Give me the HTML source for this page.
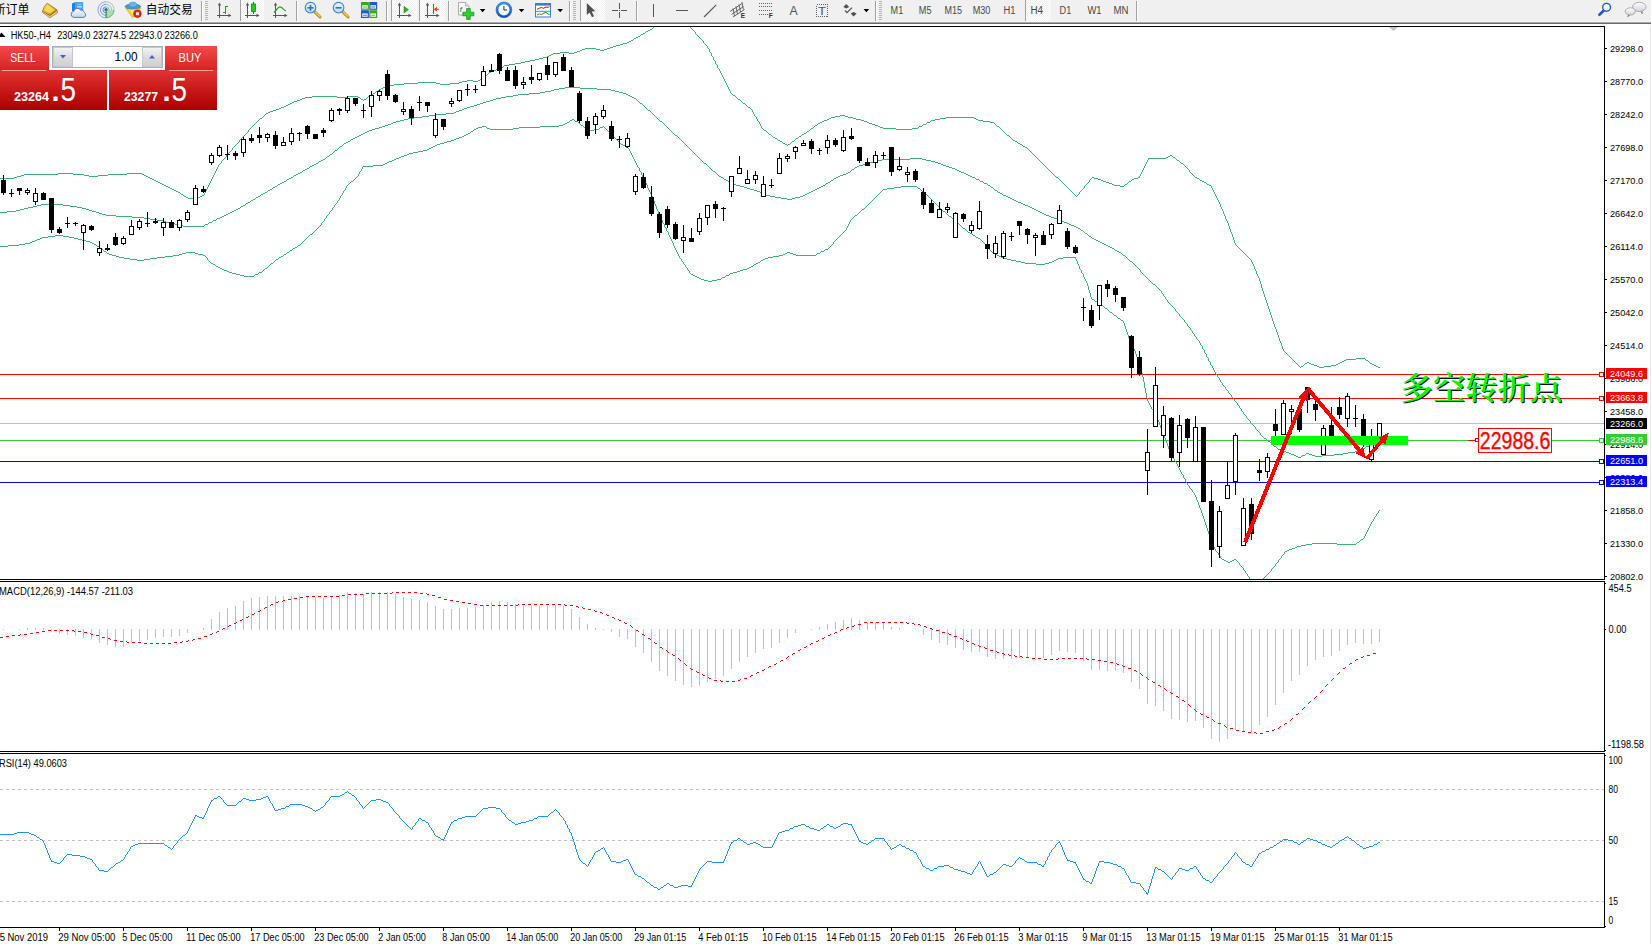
<!DOCTYPE html>
<html><head><meta charset="utf-8"><title>HK50-,H4</title>
<style>html,body{margin:0;padding:0;background:#fff}body{width:1651px;height:944px;overflow:hidden;position:relative}svg{display:block;position:absolute;left:0;top:0;font-family:"Liberation Sans","Noto Sans CJK SC",sans-serif}text{white-space:pre}</style></head><body>
<svg width="1651" height="944" viewBox="0 0 1651 944">
<defs><linearGradient id="gSell" x1="0" y1="0" x2="0" y2="1"><stop offset="0" stop-color="#f24a4a"/><stop offset="1" stop-color="#d82222"/></linearGradient><linearGradient id="gBig" x1="0" y1="0" x2="0" y2="1"><stop offset="0" stop-color="#e23434"/><stop offset="0.5" stop-color="#c81818"/><stop offset="1" stop-color="#ad0000"/></linearGradient><linearGradient id="gBtn" x1="0" y1="0" x2="0" y2="1"><stop offset="0" stop-color="#f4f4f4"/><stop offset="0.5" stop-color="#dcdcdc"/><stop offset="1" stop-color="#cfcfcf"/></linearGradient><clipPath id="cMain"><rect x="0" y="27" width="1604" height="552"/></clipPath></defs>
<rect x="0" y="0" width="1651" height="944" fill="#fff"/>
<g shape-rendering="crispEdges">
<rect x="0" y="26" width="1605" height="1" fill="#000"/>
<rect x="1604" y="26" width="1" height="554" fill="#000"/>
<rect x="1604" y="581" width="1" height="171" fill="#000"/>
<rect x="1604" y="753" width="1" height="175" fill="#000"/>
<rect x="0" y="579" width="1605" height="1" fill="#000"/>
<rect x="0" y="581" width="1605" height="1" fill="#000"/>
<rect x="0" y="751" width="1605" height="1" fill="#000"/>
<rect x="0" y="753" width="1605" height="1" fill="#000"/>
<rect x="0" y="927" width="1605" height="1" fill="#000"/>
<rect x="1650" y="24" width="1" height="920" fill="#e3e3e3"/>
<rect x="0" y="423" width="1604" height="1" fill="#c0c0c0"/>
<rect x="0" y="374" width="1600" height="1" fill="#ff0000"/>
<rect x="0" y="398" width="1600" height="1" fill="#ff0000"/>
<rect x="0" y="440" width="1600" height="1" fill="#32cd32"/>
<rect x="0" y="461" width="1600" height="1" fill="#0000ff"/>
<rect x="0" y="482" width="1600" height="1" fill="#0000ff"/>
<path d="M653 27h1M690 27h1M652 28h1M691 28h1M650 29h2M692 29h1M648 30h2M693 30h1M646 31h2M694 31h1M645 32h1M695 32h1M643 33h2M695 33h1M641 34h2M696 34h1M640 35h1M697 35h1M638 36h2M698 36h1M636 37h2M699 37h1M634 38h2M700 38h1M633 39h1M701 39h1M631 40h2M702 40h1M629 41h2M703 41h1M627 42h2M703 42h1M623 43h4M704 43h1M620 44h3M705 44h1M616 45h4M706 45h1M613 46h3M707 46h1M610 47h3M707 47h1M585 48h11M607 48h3M708 48h1M582 49h3M596 49h4M604 49h3M709 49h1M580 50h2M600 50h4M709 50h1M577 51h3M709 51h1M560 52h9M574 52h3M710 52h1M553 53h7M569 53h5M711 53h1M551 54h2M711 54h1M549 55h2M711 55h1M547 56h2M712 56h1M543 57h4M713 57h1M539 58h4M713 58h1M535 59h4M713 59h1M530 60h5M714 60h1M525 61h5M715 61h1M521 62h4M715 62h1M515 63h6M715 63h1M509 64h6M716 64h1M504 65h5M717 65h1M503 66h1M717 66h1M500 67h3M717 67h1M499 68h1M718 68h1M496 69h3M719 69h1M493 70h3M719 70h1M491 71h2M720 71h1M489 72h2M720 72h1M488 73h1M721 73h1M487 74h1M721 74h1M485 75h2M722 75h1M484 76h1M722 76h1M483 77h1M723 77h1M482 78h1M723 78h1M480 79h2M724 79h1M467 80h6M478 80h2M724 80h1M462 81h5M473 81h5M725 81h1M418 82h18M459 82h3M725 82h1M404 83h14M436 83h4M450 83h9M726 83h1M394 84h10M440 84h10M726 84h1M389 85h5M727 85h1M385 86h4M727 86h1M383 87h2M728 87h1M381 88h2M728 88h1M379 89h2M729 89h1M378 90h1M729 90h1M376 91h2M730 91h1M375 92h1M730 92h1M373 93h2M731 93h1M371 94h2M732 94h1M370 95h1M733 95h2M312 96h25M348 96h10M368 96h2M735 96h1M305 97h7M337 97h11M358 97h2M367 97h1M736 97h1M302 98h3M360 98h1M366 98h1M737 98h1M300 99h2M361 99h2M364 99h2M738 99h2M297 100h3M363 100h1M740 100h1M294 101h3M741 101h1M292 102h2M742 102h1M290 103h2M743 103h2M288 104h2M745 104h1M286 105h2M746 105h1M284 106h2M747 106h1M281 107h3M748 107h2M279 108h2M750 108h1M276 109h3M751 109h1M273 110h3M752 110h1M270 111h3M752 111h1M268 112h2M753 112h1M266 113h2M753 113h1M265 114h1M754 114h1M264 115h1M754 115h1M840 115h5M263 116h1M755 116h1M835 116h5M845 116h3M262 117h1M756 117h1M831 117h4M848 117h5M946 117h28M260 118h2M756 118h1M829 118h2M853 118h3M940 118h6M974 118h2M259 119h1M757 119h1M827 119h2M856 119h5M935 119h5M976 119h2M258 120h1M757 120h1M824 120h3M861 120h3M931 120h4M978 120h5M257 121h1M758 121h1M822 121h2M864 121h3M930 121h1M983 121h7M256 122h1M759 122h1M820 122h2M867 122h2M927 122h3M990 122h4M255 123h1M759 123h1M818 123h2M869 123h3M926 123h1M994 123h1M254 124h1M760 124h1M817 124h1M872 124h3M923 124h3M995 124h1M253 125h1M760 125h1M815 125h2M875 125h3M922 125h1M996 125h1M252 126h1M761 126h1M814 126h1M878 126h2M919 126h3M997 126h2M251 127h1M761 127h1M813 127h1M880 127h3M918 127h1M999 127h1M250 128h1M762 128h1M811 128h2M883 128h13M912 128h6M1000 128h1M249 129h1M763 129h1M810 129h1M896 129h16M1001 129h1M248 130h1M764 130h2M809 130h1M1002 130h1M248 131h1M766 131h1M807 131h2M1003 131h1M247 132h1M767 132h1M806 132h1M1004 132h1M246 133h1M768 133h1M804 133h2M1005 133h1M245 134h1M769 134h2M802 134h2M1006 134h1M244 135h1M771 135h1M801 135h1M1007 135h2M243 136h1M772 136h1M799 136h2M1009 136h1M242 137h1M773 137h2M798 137h1M1010 137h1M241 138h1M775 138h2M796 138h2M1011 138h1M240 139h1M777 139h1M795 139h1M1012 139h1M239 140h1M778 140h2M794 140h1M1013 140h2M239 141h1M780 141h2M792 141h2M1015 141h2M238 142h1M782 142h1M791 142h1M1017 142h1M237 143h1M783 143h2M790 143h1M1018 143h2M236 144h1M785 144h2M788 144h2M1020 144h2M235 145h1M787 145h1M1022 145h1M234 146h1M1023 146h2M233 147h1M1025 147h2M232 148h1M1027 148h1M232 149h1M1028 149h1M231 150h1M1029 150h1M230 151h1M1030 151h1M229 152h1M1031 152h1M228 153h1M1032 153h1M227 154h1M1033 154h1M226 155h1M1034 155h1M1170 155h2M226 156h1M1035 156h1M1168 156h2M1172 156h1M225 157h1M1036 157h1M1166 157h2M1173 157h2M224 158h1M1037 158h1M1148 158h18M1175 158h1M223 159h1M1038 159h1M1148 159h1M1176 159h1M222 160h1M1039 160h1M1147 160h1M1177 160h2M221 161h1M1040 161h1M1147 161h1M1179 161h1M221 162h1M1041 162h1M1146 162h1M1180 162h1M220 163h1M1042 163h1M1146 163h1M1181 163h2M219 164h1M1043 164h1M1145 164h1M1183 164h1M218 165h1M1044 165h1M1145 165h1M1184 165h1M218 166h1M1045 166h1M1144 166h1M1185 166h1M217 167h1M1046 167h1M1144 167h1M1186 167h1M217 168h1M1047 168h1M1143 168h1M1187 168h1M216 169h1M1048 169h1M1143 169h1M1188 169h1M216 170h1M1049 170h1M1142 170h1M1189 170h1M215 171h1M1050 171h1M1142 171h1M1189 171h1M215 172h1M1051 172h1M1141 172h1M1190 172h1M58 173h15M127 173h15M214 173h1M1052 173h1M1141 173h1M1191 173h1M24 174h34M73 174h11M108 174h19M142 174h2M214 174h1M1053 174h1M1140 174h1M1192 174h1M21 175h3M84 175h5M98 175h10M144 175h2M213 175h1M1054 175h1M1140 175h1M1193 175h1M17 176h4M89 176h9M146 176h2M213 176h1M1055 176h1M1139 176h1M1194 176h1M14 177h3M148 177h2M212 177h1M1056 177h2M1092 177h2M1138 177h2M1195 177h2M0 178h14M150 178h2M212 178h1M1058 178h1M1091 178h1M1094 178h4M1134 178h4M1197 178h2M152 179h2M211 179h1M1059 179h1M1090 179h1M1098 179h3M1132 179h2M1199 179h1M154 180h2M211 180h1M1060 180h1M1089 180h1M1101 180h2M1131 180h1M1200 180h2M156 181h2M210 181h1M1061 181h1M1089 181h1M1103 181h3M1129 181h2M1202 181h2M158 182h2M210 182h1M1062 182h1M1088 182h1M1106 182h3M1128 182h1M1204 182h2M160 183h2M209 183h1M1063 183h1M1087 183h1M1109 183h3M1127 183h1M1206 183h1M162 184h2M209 184h1M1064 184h1M1086 184h1M1112 184h2M1125 184h2M1207 184h2M164 185h2M208 185h1M1065 185h1M1085 185h1M1114 185h6M1124 185h1M1209 185h2M166 186h2M208 186h1M1066 186h1M1084 186h1M1120 186h4M1211 186h1M168 187h2M207 187h1M1067 187h1M1084 187h1M1211 187h1M170 188h2M207 188h1M1068 188h1M1083 188h1M1212 188h1M172 189h2M206 189h1M1069 189h1M1082 189h1M1212 189h1M174 190h2M206 190h1M1070 190h1M1081 190h1M1213 190h1M176 191h2M205 191h1M1071 191h1M1080 191h1M1213 191h1M178 192h2M205 192h1M1072 192h1M1079 192h1M1214 192h1M180 193h1M204 193h1M1073 193h1M1079 193h1M1214 193h1M181 194h2M204 194h1M1074 194h1M1078 194h1M1215 194h1M183 195h1M202 195h2M1075 195h1M1077 195h1M1215 195h1M184 196h2M200 196h2M1076 196h1M1216 196h1M186 197h2M196 197h4M1216 197h1M188 198h8M1217 198h1M1217 199h1M1218 200h1M1218 201h1M1219 202h1M1219 203h1M1220 204h1M1220 205h1M1220 206h1M1221 207h1M1221 208h1M1222 209h1M1222 210h1M1223 211h1M1223 212h1M1223 213h1M1224 214h1M1224 215h1M1225 216h1M1225 217h1M1225 218h1M1226 219h1M1226 220h1M1227 221h1M1227 222h1M1228 223h1M1228 224h1M1228 225h1M1229 226h1M1229 227h1M1229 228h1M1230 229h1M1230 230h1M1230 231h1M1231 232h1M1231 233h1M1232 234h1M1232 235h1M1232 236h1M1233 237h1M1233 238h1M1233 239h1M1234 240h1M1234 241h1M1234 242h1M1235 243h1M1235 244h1M1236 245h1M1237 246h1M1238 247h1M1239 248h1M1240 249h1M1241 250h1M1242 251h1M1243 252h1M1244 253h1M1245 254h1M1246 255h1M1247 256h1M1248 257h1M1249 258h1M1250 259h1M1251 260h1M1251 261h1M1252 262h1M1252 263h1M1253 264h1M1253 265h1M1254 266h1M1254 267h1M1254 268h1M1255 269h1M1255 270h1M1256 271h1M1256 272h1M1256 273h1M1257 274h1M1257 275h1M1258 276h1M1258 277h1M1259 278h1M1259 279h1M1259 280h1M1260 281h1M1260 282h1M1260 283h1M1261 284h1M1261 285h1M1261 286h1M1261 287h1M1262 288h1M1262 289h1M1262 290h1M1263 291h1M1263 292h1M1263 293h1M1264 294h1M1264 295h1M1264 296h1M1265 297h1M1265 298h1M1265 299h1M1266 300h1M1266 301h1M1266 302h1M1267 303h1M1267 304h1M1267 305h1M1268 306h1M1268 307h1M1268 308h1M1269 309h1M1269 310h1M1269 311h1M1270 312h1M1270 313h1M1270 314h1M1271 315h1M1271 316h1M1271 317h1M1272 318h1M1272 319h1M1272 320h1M1273 321h1M1273 322h1M1273 323h1M1274 324h1M1274 325h1M1274 326h1M1275 327h1M1275 328h1M1276 329h1M1276 330h1M1276 331h1M1277 332h1M1277 333h1M1277 334h1M1278 335h1M1278 336h1M1278 337h1M1279 338h1M1279 339h1M1279 340h1M1280 341h1M1280 342h1M1281 343h1M1281 344h1M1281 345h1M1282 346h1M1282 347h1M1282 348h1M1283 349h1M1283 350h1M1284 351h1M1285 352h1M1286 353h1M1287 354h1M1288 355h1M1289 356h1M1290 357h1M1291 358h1M1356 358h9M1292 359h1M1346 359h10M1365 359h1M1293 360h1M1344 360h2M1366 360h2M1294 361h1M1342 361h2M1368 361h1M1295 362h1M1307 362h2M1340 362h2M1369 362h1M1296 363h1M1305 363h2M1309 363h2M1338 363h2M1370 363h2M1297 364h1M1304 364h1M1311 364h3M1336 364h2M1372 364h2M1298 365h1M1303 365h1M1314 365h3M1331 365h5M1374 365h2M1299 366h1M1301 366h2M1317 366h2M1324 366h7M1376 366h2M1300 367h1M1319 367h5M1378 367h2" transform="translate(0,0.5)" fill="none" stroke="#3cb371" stroke-width="1"/>
<path d="M565 87h15M559 88h6M580 88h17M554 89h5M597 89h14M551 90h3M611 90h4M545 91h6M615 91h4M540 92h5M619 92h4M529 93h11M623 93h3M518 94h11M626 94h2M513 95h5M628 95h2M506 96h7M630 96h2M501 97h5M632 97h2M496 98h5M634 98h2M493 99h3M636 99h1M490 100h3M637 100h1M486 101h4M638 101h1M483 102h3M639 102h1M480 103h3M640 103h2M477 104h3M642 104h1M474 105h3M643 105h1M470 106h4M644 106h1M467 107h3M645 107h1M464 108h3M646 108h1M462 109h2M647 109h1M459 110h3M648 110h2M456 111h3M650 111h1M454 112h2M651 112h1M446 113h8M652 113h1M435 114h11M653 114h1M429 115h6M654 115h1M422 116h7M655 116h1M414 117h8M656 117h1M408 118h6M657 118h1M404 119h4M658 119h1M400 120h4M659 120h1M396 121h4M660 121h2M393 122h3M662 122h1M391 123h2M663 123h1M388 124h3M664 124h1M385 125h3M665 125h1M382 126h3M666 126h1M379 127h3M667 127h1M375 128h4M668 128h1M372 129h3M669 129h1M369 130h3M670 130h1M367 131h2M671 131h1M365 132h2M672 132h1M363 133h2M673 133h1M361 134h2M674 134h1M359 135h2M675 135h2M357 136h2M677 136h1M355 137h2M678 137h1M353 138h2M679 138h1M351 139h2M680 139h1M350 140h1M681 140h1M348 141h2M682 141h1M346 142h2M683 142h1M344 143h2M684 143h1M343 144h1M685 144h1M342 145h1M686 145h1M340 146h2M687 146h1M339 147h1M688 147h1M338 148h1M689 148h1M337 149h1M690 149h1M335 150h2M691 150h1M334 151h1M692 151h1M333 152h1M693 152h1M332 153h1M694 153h1M330 154h2M695 154h1M329 155h1M696 155h1M327 156h2M697 156h1M326 157h1M698 157h1M325 158h1M699 158h1M910 158h12M323 159h2M700 159h1M882 159h28M922 159h4M321 160h2M701 160h1M878 160h4M926 160h5M319 161h2M702 161h1M874 161h4M931 161h4M318 162h1M703 162h1M870 162h4M935 162h3M316 163h2M704 163h2M867 163h3M938 163h3M314 164h2M706 164h1M863 164h4M941 164h2M312 165h2M707 165h1M859 165h4M943 165h3M310 166h2M708 166h1M857 166h2M946 166h3M309 167h1M709 167h1M855 167h2M949 167h3M307 168h2M710 168h1M854 168h1M952 168h3M305 169h2M711 169h1M852 169h2M955 169h2M303 170h2M712 170h1M851 170h1M957 170h2M302 171h1M713 171h2M850 171h1M959 171h2M300 172h2M715 172h1M848 172h2M961 172h3M298 173h2M716 173h1M846 173h2M964 173h2M296 174h2M717 174h1M843 174h3M966 174h2M294 175h2M718 175h1M840 175h3M968 175h2M293 176h1M719 176h2M838 176h2M970 176h2M291 177h2M721 177h2M836 177h2M972 177h3M289 178h2M723 178h1M834 178h2M975 178h1M287 179h2M724 179h2M833 179h1M976 179h3M286 180h1M726 180h2M831 180h2M979 180h1M284 181h2M728 181h1M830 181h1M980 181h3M282 182h2M729 182h3M828 182h2M983 182h1M280 183h2M732 183h1M826 183h2M984 183h3M278 184h2M733 184h3M825 184h1M987 184h1M277 185h1M736 185h4M823 185h2M988 185h2M275 186h2M740 186h4M821 186h2M990 186h1M273 187h2M744 187h3M819 187h2M991 187h2M272 188h1M747 188h3M817 188h2M993 188h1M270 189h2M750 189h4M815 189h2M994 189h1M268 190h2M754 190h3M813 190h2M995 190h2M267 191h1M757 191h3M811 191h2M997 191h1M265 192h2M760 192h2M809 192h2M998 192h2M263 193h2M762 193h2M807 193h2M1000 193h2M261 194h2M764 194h2M805 194h2M1002 194h1M260 195h1M766 195h4M803 195h2M1003 195h3M258 196h2M770 196h5M800 196h3M1006 196h2M256 197h2M775 197h6M795 197h5M1008 197h2M255 198h1M781 198h6M792 198h3M1010 198h2M253 199h2M787 199h5M1012 199h2M251 200h2M1014 200h2M250 201h1M1016 201h2M248 202h2M1018 202h3M246 203h2M1021 203h2M41 204h22M245 204h1M1023 204h2M37 205h4M63 205h7M243 205h2M1025 205h3M33 206h4M70 206h7M241 206h2M1028 206h2M28 207h5M77 207h5M240 207h1M1030 207h2M24 208h4M82 208h4M238 208h2M1032 208h2M20 209h4M86 209h3M236 209h2M1034 209h2M16 210h4M89 210h3M234 210h2M1036 210h2M7 211h9M92 211h4M232 211h2M1038 211h2M0 212h7M96 212h3M230 212h2M1040 212h2M99 213h3M228 213h2M1042 213h2M102 214h4M226 214h2M1044 214h2M106 215h10M224 215h2M1046 215h3M116 216h16M222 216h2M1049 216h2M132 217h12M220 217h2M1051 217h3M144 218h6M217 218h3M1054 218h3M150 219h7M216 219h1M1057 219h2M157 220h6M213 220h3M1059 220h3M163 221h3M212 221h1M1062 221h2M166 222h5M209 222h3M1064 222h3M171 223h4M208 223h1M1067 223h2M175 224h4M205 224h3M1069 224h2M179 225h4M204 225h1M1071 225h3M183 226h21M1074 226h2M1076 227h2M1078 228h2M1080 229h1M1081 230h2M1083 231h1M1084 232h1M1085 233h2M1087 234h1M1088 235h1M1089 236h2M1091 237h1M1092 238h2M1094 239h2M1096 240h2M1098 241h2M1100 242h2M1102 243h2M1104 244h2M1106 245h2M1108 246h2M1110 247h2M1112 248h2M1114 249h1M1115 250h2M1117 251h2M1119 252h2M1121 253h1M1122 254h1M1123 255h2M1125 256h1M1126 257h1M1127 258h1M1128 259h1M1129 260h1M1130 261h2M1132 262h1M1133 263h1M1134 264h1M1135 265h1M1136 266h1M1137 267h1M1138 268h1M1139 269h1M1140 270h1M1140 271h1M1141 272h1M1142 273h1M1143 274h1M1144 275h1M1145 276h1M1146 277h1M1147 278h1M1148 279h1M1149 280h1M1150 281h1M1151 282h1M1152 283h1M1153 284h2M1155 285h1M1156 286h1M1157 287h1M1158 288h1M1159 289h1M1160 290h1M1161 291h1M1161 292h1M1162 293h1M1163 294h1M1163 295h1M1164 296h1M1165 297h1M1165 298h1M1166 299h1M1167 300h1M1167 301h1M1168 302h1M1169 303h1M1170 304h1M1171 305h1M1172 306h1M1173 307h1M1174 308h1M1175 309h1M1175 310h1M1176 311h1M1177 312h1M1178 313h1M1179 314h1M1179 315h1M1180 316h1M1181 317h1M1182 318h1M1183 319h1M1184 320h1M1184 321h1M1185 322h1M1186 323h1M1187 324h1M1187 325h1M1188 326h1M1189 327h1M1190 328h1M1190 329h1M1191 330h1M1192 331h1M1192 332h1M1193 333h1M1194 334h1M1194 335h1M1195 336h1M1196 337h1M1196 338h1M1197 339h1M1198 340h1M1199 341h1M1199 342h1M1200 343h1M1200 344h1M1201 345h1M1202 346h1M1202 347h1M1202 348h1M1203 349h1M1204 350h1M1204 351h1M1204 352h1M1205 353h1M1206 354h1M1206 355h1M1206 356h1M1207 357h1M1208 358h1M1208 359h1M1208 360h1M1209 361h1M1210 362h1M1210 363h1M1210 364h1M1211 365h1M1212 366h1M1212 367h1M1213 368h1M1213 369h1M1214 370h1M1214 371h1M1215 372h1M1215 373h1M1216 374h1M1217 375h1M1217 376h1M1218 377h1M1219 378h1M1219 379h1M1220 380h1M1220 381h1M1221 382h1M1222 383h1M1222 384h1M1223 385h1M1224 386h1M1225 387h1M1225 388h1M1226 389h1M1227 390h1M1228 391h1M1228 392h1M1229 393h1M1230 394h1M1231 395h1M1231 396h1M1232 397h1M1233 398h1M1234 399h1M1234 400h1M1235 401h1M1236 402h1M1237 403h1M1237 404h1M1238 405h1M1239 406h1M1239 407h1M1240 408h1M1241 409h1M1241 410h1M1242 411h1M1243 412h1M1243 413h1M1244 414h1M1245 415h1M1246 416h1M1246 417h1M1247 418h1M1248 419h1M1249 420h1M1250 421h1M1250 422h1M1251 423h1M1252 424h1M1253 425h1M1254 426h1M1255 427h1M1255 428h1M1256 429h1M1257 430h1M1258 431h1M1259 432h1M1260 433h1M1260 434h1M1261 435h1M1262 436h1M1263 437h1M1264 438h2M1266 439h1M1267 440h1M1268 441h2M1378 441h2M1270 442h1M1376 442h2M1271 443h1M1373 443h3M1272 444h1M1371 444h2M1273 445h1M1369 445h2M1274 446h2M1366 446h3M1276 447h1M1365 447h1M1277 448h1M1363 448h2M1278 449h2M1361 449h2M1280 450h3M1359 450h2M1283 451h3M1355 451h4M1286 452h3M1348 452h7M1289 453h2M1306 453h3M1343 453h5M1291 454h3M1305 454h1M1309 454h3M1334 454h9M1294 455h2M1302 455h3M1312 455h3M1322 455h12M1296 456h2M1301 456h1M1315 456h7M1298 457h3" transform="translate(0,0.5)" fill="none" stroke="#3cb371" stroke-width="1"/>
<path d="M572 119h2M570 120h2M574 120h1M569 121h1M575 121h3M567 122h2M578 122h1M565 123h2M579 123h1M563 124h2M580 124h1M559 125h4M581 125h2M482 126h4M540 126h19M583 126h1M603 126h1M478 127h4M486 127h1M519 127h21M584 127h1M600 127h3M604 127h1M476 128h2M487 128h3M513 128h6M585 128h2M599 128h1M605 128h1M474 129h2M490 129h23M587 129h1M594 129h5M606 129h1M473 130h1M588 130h6M607 130h1M471 131h2M608 131h1M470 132h1M609 132h1M468 133h2M610 133h1M466 134h2M611 134h1M464 135h2M612 135h1M462 136h2M613 136h1M459 137h3M614 137h1M456 138h3M615 138h1M454 139h2M616 139h1M451 140h3M617 140h1M447 141h4M618 141h1M444 142h3M619 142h1M440 143h4M620 143h1M437 144h3M621 144h2M435 145h2M623 145h2M433 146h2M625 146h1M431 147h2M626 147h2M429 148h2M628 148h1M427 149h2M629 149h1M423 150h4M629 150h1M418 151h5M630 151h1M413 152h5M630 152h1M409 153h4M631 153h1M407 154h2M631 154h1M404 155h3M632 155h1M401 156h3M632 156h1M399 157h2M633 157h1M396 158h3M633 158h1M394 159h2M634 159h1M392 160h2M634 160h1M389 161h3M635 161h1M387 162h2M635 162h1M385 163h2M636 163h1M383 164h2M636 164h1M373 165h10M637 165h1M363 166h10M637 166h1M362 167h1M638 167h1M362 168h1M639 168h1M361 169h1M639 169h1M361 170h1M639 170h1M360 171h1M640 171h1M359 172h1M641 172h1M359 173h1M641 173h1M358 174h1M641 174h1M358 175h1M642 175h1M357 176h1M642 176h1M356 177h1M643 177h1M355 178h1M643 178h1M354 179h1M644 179h1M353 180h1M644 180h1M351 181h2M645 181h1M350 182h1M645 182h1M349 183h1M646 183h1M348 184h1M646 184h1M347 185h1M647 185h1M346 186h1M647 186h1M901 186h16M346 187h1M647 187h1M894 187h7M917 187h1M345 188h1M648 188h1M887 188h7M918 188h2M345 189h1M648 189h1M883 189h4M920 189h1M344 190h1M649 190h1M882 190h1M921 190h1M343 191h1M649 191h1M881 191h1M922 191h2M343 192h1M650 192h1M880 192h1M924 192h1M342 193h1M650 193h1M879 193h1M925 193h1M342 194h1M651 194h1M878 194h1M926 194h1M341 195h1M651 195h1M877 195h1M927 195h1M340 196h1M652 196h1M876 196h1M928 196h1M340 197h1M652 197h1M875 197h1M929 197h1M339 198h1M652 198h1M874 198h1M930 198h1M339 199h1M653 199h1M873 199h1M931 199h1M338 200h1M653 200h1M872 200h1M932 200h1M337 201h1M654 201h1M871 201h1M933 201h1M337 202h1M654 202h1M870 202h1M934 202h1M336 203h1M654 203h1M869 203h1M935 203h1M335 204h1M655 204h1M868 204h1M936 204h1M334 205h1M655 205h1M867 205h1M937 205h1M334 206h1M656 206h1M866 206h1M938 206h1M333 207h1M656 207h1M865 207h1M939 207h1M332 208h1M656 208h1M864 208h1M940 208h1M332 209h1M657 209h1M862 209h2M941 209h1M331 210h1M657 210h1M861 210h1M942 210h1M330 211h1M658 211h1M860 211h1M943 211h2M329 212h1M658 212h1M859 212h1M945 212h1M329 213h1M658 213h1M858 213h1M946 213h1M328 214h1M659 214h1M857 214h1M947 214h1M327 215h1M659 215h1M855 215h2M948 215h1M326 216h1M660 216h1M854 216h1M949 216h2M326 217h1M660 217h1M853 217h1M951 217h1M325 218h1M660 218h1M852 218h1M952 218h1M324 219h1M661 219h1M851 219h1M953 219h1M324 220h1M662 220h1M850 220h1M954 220h1M323 221h1M662 221h1M850 221h1M955 221h1M322 222h1M662 222h1M849 222h1M956 222h2M321 223h1M663 223h1M849 223h1M958 223h1M321 224h1M664 224h1M848 224h1M959 224h1M320 225h1M664 225h1M848 225h1M960 225h1M319 226h1M664 226h1M847 226h1M961 226h1M318 227h1M665 227h1M847 227h1M962 227h1M317 228h1M666 228h1M846 228h1M963 228h2M316 229h1M666 229h1M846 229h1M965 229h1M315 230h1M666 230h1M845 230h1M966 230h1M314 231h1M667 231h1M844 231h1M967 231h1M313 232h1M668 232h1M843 232h1M968 232h2M312 233h1M668 233h1M842 233h1M970 233h2M310 234h2M668 234h1M841 234h1M972 234h1M55 235h8M309 235h1M669 235h1M840 235h1M973 235h2M48 236h7M63 236h6M308 236h1M669 236h1M839 236h1M975 236h1M42 237h6M69 237h5M307 237h1M670 237h1M838 237h1M976 237h2M40 238h2M74 238h4M306 238h1M670 238h1M837 238h1M978 238h2M37 239h3M78 239h4M305 239h1M671 239h1M836 239h1M980 239h1M35 240h2M82 240h4M304 240h1M671 240h1M835 240h1M981 240h1M32 241h3M86 241h4M303 241h1M672 241h1M834 241h1M982 241h1M30 242h2M90 242h2M302 242h1M672 242h1M833 242h1M983 242h1M25 243h5M92 243h2M301 243h1M673 243h1M833 243h1M984 243h1M19 244h6M94 244h2M300 244h1M673 244h1M832 244h1M985 244h1M8 245h11M96 245h1M298 245h2M673 245h1M831 245h1M986 245h1M0 246h8M97 246h2M297 246h1M674 246h1M830 246h1M986 246h1M99 247h1M295 247h2M674 247h1M829 247h1M987 247h1M100 248h1M293 248h2M675 248h1M828 248h1M988 248h1M101 249h2M292 249h1M675 249h1M825 249h3M989 249h1M103 250h1M290 250h2M676 250h1M824 250h1M990 250h1M104 251h2M289 251h1M676 251h1M821 251h3M991 251h1M106 252h1M186 252h9M287 252h2M677 252h1M787 252h3M820 252h1M992 252h1M107 253h2M182 253h4M195 253h3M286 253h1M677 253h1M785 253h2M790 253h3M817 253h3M993 253h2M109 254h3M179 254h3M198 254h5M284 254h2M678 254h1M783 254h2M793 254h3M816 254h1M995 254h2M112 255h4M173 255h6M203 255h2M283 255h1M678 255h1M779 255h4M796 255h20M997 255h2M116 256h3M165 256h8M205 256h1M281 256h2M679 256h1M773 256h6M999 256h2M119 257h5M157 257h8M206 257h1M279 257h2M679 257h1M768 257h5M1001 257h2M1063 257h13M124 258h6M150 258h7M207 258h1M278 258h1M680 258h1M765 258h3M1003 258h4M1058 258h5M1075 258h1M130 259h7M144 259h6M207 259h1M276 259h2M681 259h1M763 259h2M1007 259h4M1056 259h2M1076 259h1M137 260h7M208 260h1M275 260h1M681 260h1M761 260h2M1011 260h5M1054 260h2M1076 260h1M209 261h1M274 261h1M682 261h1M760 261h1M1016 261h5M1052 261h2M1077 261h1M210 262h1M273 262h1M683 262h1M758 262h2M1021 262h4M1049 262h3M1077 262h1M211 263h2M271 263h2M683 263h1M756 263h2M1025 263h11M1045 263h4M1077 263h1M213 264h2M270 264h1M684 264h1M754 264h2M1036 264h9M1078 264h1M215 265h1M269 265h1M685 265h1M753 265h1M1078 265h1M216 266h2M268 266h1M685 266h1M751 266h2M1079 266h1M218 267h2M267 267h1M686 267h1M749 267h2M1079 267h1M220 268h2M265 268h2M687 268h1M747 268h2M1079 268h1M222 269h2M264 269h1M687 269h1M743 269h4M1080 269h1M224 270h3M263 270h1M688 270h1M740 270h3M1081 270h1M227 271h2M262 271h1M689 271h1M737 271h3M1081 271h1M229 272h3M259 272h3M689 272h1M733 272h4M1081 272h1M232 273h4M258 273h1M690 273h1M730 273h3M1082 273h1M236 274h4M255 274h3M691 274h2M729 274h1M1083 274h1M240 275h4M254 275h1M693 275h2M726 275h3M1083 275h1M244 276h10M695 276h2M725 276h1M1083 276h1M697 277h2M722 277h3M1084 277h1M699 278h2M721 278h1M1084 278h1M701 279h3M717 279h4M1085 279h1M704 280h4M712 280h5M1085 280h1M708 281h4M1086 281h1M1086 282h1M1087 283h1M1087 284h1M1087 285h1M1088 286h1M1088 287h1M1088 288h1M1088 289h1M1089 290h1M1089 291h1M1089 292h1M1090 293h1M1090 294h1M1090 295h1M1090 296h1M1091 297h1M1091 298h1M1092 299h2M1094 300h1M1095 301h2M1097 302h1M1098 303h2M1100 304h1M1101 305h2M1103 306h1M1104 307h1M1105 308h2M1107 309h1M1108 310h1M1109 311h1M1110 312h2M1112 313h1M1113 314h1M1114 315h2M1116 316h1M1117 317h1M1118 318h2M1120 319h1M1121 320h2M1123 321h1M1123 322h1M1124 323h1M1124 324h1M1124 325h1M1125 326h1M1125 327h1M1125 328h1M1126 329h1M1126 330h1M1126 331h1M1127 332h1M1127 333h1M1127 334h1M1128 335h1M1128 336h1M1128 337h1M1129 338h1M1129 339h1M1130 340h1M1130 341h1M1131 342h1M1131 343h1M1132 344h1M1132 345h1M1132 346h1M1133 347h1M1133 348h1M1134 349h1M1134 350h1M1135 351h1M1135 352h1M1135 353h1M1136 354h1M1136 355h1M1136 356h1M1137 357h1M1137 358h1M1137 359h1M1138 360h1M1138 361h1M1138 362h1M1139 363h1M1139 364h1M1139 365h1M1139 366h1M1140 367h1M1140 368h1M1140 369h1M1141 370h1M1141 371h1M1141 372h1M1142 373h1M1142 374h1M1142 375h1M1142 376h1M1143 377h1M1143 378h1M1143 379h1M1143 380h1M1143 381h1M1144 382h1M1144 383h1M1144 384h1M1144 385h1M1144 386h1M1144 387h1M1145 388h1M1145 389h1M1145 390h1M1145 391h1M1145 392h1M1146 393h1M1146 394h1M1146 395h1M1146 396h1M1146 397h1M1147 398h1M1147 399h1M1147 400h1M1148 401h1M1148 402h1M1149 403h1M1149 404h1M1150 405h1M1150 406h1M1151 407h1M1151 408h1M1152 409h1M1153 410h1M1153 411h1M1154 412h1M1154 413h1M1155 414h1M1155 415h1M1156 416h1M1156 417h1M1157 418h1M1157 419h1M1158 420h1M1158 421h1M1159 422h1M1159 423h1M1159 424h1M1160 425h1M1160 426h1M1160 427h1M1161 428h1M1161 429h1M1162 430h1M1162 431h1M1162 432h1M1163 433h1M1163 434h1M1163 435h1M1164 436h1M1164 437h1M1165 438h1M1165 439h1M1165 440h1M1166 441h1M1166 442h1M1167 443h1M1167 444h1M1167 445h1M1168 446h1M1168 447h1M1168 448h1M1169 449h1M1169 450h1M1170 451h1M1170 452h1M1171 453h1M1171 454h1M1172 455h1M1172 456h1M1173 457h1M1173 458h1M1174 459h1M1174 460h1M1175 461h1M1176 462h1M1176 463h1M1177 464h1M1177 465h1M1178 466h1M1178 467h1M1179 468h1M1179 469h1M1180 470h1M1180 471h1M1181 472h1M1181 473h1M1182 474h1M1183 475h1M1183 476h1M1183 477h1M1184 478h1M1185 479h1M1185 480h1M1185 481h1M1186 482h1M1187 483h1M1187 484h1M1188 485h1M1189 486h1M1189 487h1M1190 488h1M1191 489h1M1192 490h1M1192 491h1M1193 492h1M1194 493h1M1194 494h1M1195 495h1M1195 496h1M1196 497h1M1196 498h1M1196 499h1M1197 500h1M1197 501h1M1198 502h1M1198 503h1M1198 504h1M1199 505h1M1199 506h1M1199 507h1M1200 508h1M1200 509h1M1201 510h1M1379 510h1M1201 511h1M1378 511h1M1201 512h1M1378 512h1M1202 513h1M1377 513h1M1202 514h1M1376 514h1M1202 515h1M1376 515h1M1203 516h1M1375 516h1M1203 517h1M1374 517h1M1203 518h1M1374 518h1M1204 519h1M1373 519h1M1204 520h1M1373 520h1M1204 521h1M1372 521h1M1205 522h1M1371 522h1M1205 523h1M1371 523h1M1205 524h1M1370 524h1M1206 525h1M1370 525h1M1206 526h1M1369 526h1M1206 527h1M1369 527h1M1207 528h1M1368 528h1M1207 529h1M1368 529h1M1207 530h1M1367 530h1M1208 531h1M1367 531h1M1208 532h1M1366 532h1M1208 533h1M1366 533h1M1209 534h1M1365 534h1M1209 535h1M1365 535h1M1209 536h1M1364 536h1M1210 537h1M1364 537h1M1210 538h1M1363 538h1M1211 539h1M1361 539h2M1211 540h1M1360 540h1M1211 541h1M1359 541h1M1212 542h1M1357 542h2M1212 543h1M1312 543h25M1356 543h1M1212 544h1M1306 544h6M1337 544h19M1213 545h1M1301 545h5M1213 546h1M1297 546h4M1214 547h1M1295 547h2M1214 548h1M1292 548h3M1215 549h1M1289 549h3M1215 550h1M1287 550h2M1216 551h1M1285 551h2M1217 552h1M1284 552h1M1218 553h1M1284 553h1M1218 554h1M1283 554h1M1219 555h1M1282 555h1M1220 556h1M1281 556h1M1220 557h1M1281 557h1M1221 558h1M1280 558h1M1222 559h2M1234 559h2M1279 559h1M1224 560h2M1232 560h2M1236 560h1M1278 560h1M1226 561h2M1230 561h2M1237 561h1M1278 561h1M1228 562h2M1238 562h1M1277 562h1M1239 563h1M1276 563h1M1239 564h1M1275 564h1M1240 565h1M1275 565h1M1241 566h1M1274 566h1M1242 567h1M1273 567h1M1243 568h1M1272 568h1M1243 569h1M1271 569h1M1244 570h1M1271 570h1M1245 571h1M1270 571h1M1245 572h1M1269 572h1M1246 573h1M1268 573h1M1247 574h1M1267 574h1M1247 575h1M1266 575h1M1248 576h1M1265 576h1M1249 577h1M1264 577h1M1249 578h1M1263 578h1" transform="translate(0,0.5)" fill="none" stroke="#3cb371" stroke-width="1"/>
<rect x="3" y="175" width="1" height="20" fill="#000"/>
<rect x="1" y="180" width="5" height="13" fill="#000"/>
<rect x="11" y="189" width="1" height="8" fill="#000"/>
<rect x="9" y="193" width="5" height="1" fill="#000"/>
<rect x="19" y="188" width="1" height="7" fill="#000"/>
<rect x="17" y="188" width="5" height="3" fill="#000"/>
<rect x="27" y="188" width="1" height="7" fill="#000"/>
<rect x="25" y="190" width="5" height="3" fill="#000"/>
<rect x="26" y="191" width="3" height="1" fill="#fff"/>
<rect x="35" y="188" width="1" height="17" fill="#000"/>
<rect x="33" y="193" width="5" height="9" fill="#000"/>
<rect x="34" y="194" width="3" height="7" fill="#fff"/>
<rect x="43" y="192" width="1" height="8" fill="#000"/>
<rect x="41" y="193" width="5" height="7" fill="#000"/>
<rect x="51" y="198" width="1" height="35" fill="#000"/>
<rect x="49" y="198" width="5" height="32" fill="#000"/>
<rect x="59" y="227" width="1" height="7" fill="#000"/>
<rect x="57" y="229" width="5" height="4" fill="#000"/>
<rect x="67" y="217" width="1" height="11" fill="#000"/>
<rect x="65" y="223" width="5" height="1" fill="#000"/>
<rect x="75" y="222" width="1" height="4" fill="#000"/>
<rect x="73" y="223" width="5" height="1" fill="#000"/>
<rect x="83" y="224" width="1" height="26" fill="#000"/>
<rect x="81" y="225" width="5" height="8" fill="#000"/>
<rect x="82" y="226" width="3" height="6" fill="#fff"/>
<rect x="91" y="225" width="1" height="6" fill="#000"/>
<rect x="89" y="226" width="5" height="4" fill="#000"/>
<rect x="99" y="241" width="1" height="15" fill="#000"/>
<rect x="97" y="248" width="5" height="5" fill="#000"/>
<rect x="98" y="249" width="3" height="3" fill="#fff"/>
<rect x="107" y="244" width="1" height="7" fill="#000"/>
<rect x="105" y="248" width="5" height="2" fill="#000"/>
<rect x="115" y="233" width="1" height="13" fill="#000"/>
<rect x="113" y="237" width="5" height="8" fill="#000"/>
<rect x="123" y="236" width="1" height="9" fill="#000"/>
<rect x="121" y="238" width="5" height="6" fill="#000"/>
<rect x="122" y="239" width="3" height="4" fill="#fff"/>
<rect x="131" y="220" width="1" height="15" fill="#000"/>
<rect x="129" y="226" width="5" height="9" fill="#000"/>
<rect x="130" y="227" width="3" height="7" fill="#fff"/>
<rect x="139" y="219" width="1" height="11" fill="#000"/>
<rect x="137" y="221" width="5" height="7" fill="#000"/>
<rect x="138" y="222" width="3" height="5" fill="#fff"/>
<rect x="147" y="212" width="1" height="15" fill="#000"/>
<rect x="145" y="223" width="5" height="1" fill="#000"/>
<rect x="155" y="218" width="1" height="6" fill="#000"/>
<rect x="153" y="221" width="5" height="2" fill="#000"/>
<rect x="163" y="218" width="1" height="18" fill="#000"/>
<rect x="161" y="222" width="5" height="6" fill="#000"/>
<rect x="162" y="223" width="3" height="4" fill="#fff"/>
<rect x="171" y="220" width="1" height="8" fill="#000"/>
<rect x="169" y="222" width="5" height="6" fill="#000"/>
<rect x="179" y="219" width="1" height="12" fill="#000"/>
<rect x="177" y="220" width="5" height="8" fill="#000"/>
<rect x="178" y="221" width="3" height="6" fill="#fff"/>
<rect x="187" y="210" width="1" height="12" fill="#000"/>
<rect x="185" y="212" width="5" height="8" fill="#000"/>
<rect x="186" y="213" width="3" height="6" fill="#fff"/>
<rect x="195" y="185" width="1" height="20" fill="#000"/>
<rect x="193" y="188" width="5" height="17" fill="#000"/>
<rect x="194" y="189" width="3" height="15" fill="#fff"/>
<rect x="203" y="186" width="1" height="7" fill="#000"/>
<rect x="201" y="189" width="5" height="3" fill="#000"/>
<rect x="211" y="153" width="1" height="12" fill="#000"/>
<rect x="209" y="155" width="5" height="8" fill="#000"/>
<rect x="210" y="156" width="3" height="6" fill="#fff"/>
<rect x="219" y="145" width="1" height="12" fill="#000"/>
<rect x="217" y="147" width="5" height="9" fill="#000"/>
<rect x="218" y="148" width="3" height="7" fill="#fff"/>
<rect x="227" y="145" width="1" height="15" fill="#000"/>
<rect x="225" y="154" width="5" height="1" fill="#000"/>
<rect x="235" y="151" width="1" height="9" fill="#000"/>
<rect x="233" y="153" width="5" height="3" fill="#000"/>
<rect x="243" y="137" width="1" height="20" fill="#000"/>
<rect x="241" y="139" width="5" height="14" fill="#000"/>
<rect x="242" y="140" width="3" height="12" fill="#fff"/>
<rect x="251" y="134" width="1" height="9" fill="#000"/>
<rect x="249" y="138" width="5" height="3" fill="#000"/>
<rect x="259" y="127" width="1" height="16" fill="#000"/>
<rect x="257" y="135" width="5" height="3" fill="#000"/>
<rect x="267" y="133" width="1" height="9" fill="#000"/>
<rect x="265" y="134" width="5" height="4" fill="#000"/>
<rect x="266" y="135" width="3" height="2" fill="#fff"/>
<rect x="275" y="131" width="1" height="18" fill="#000"/>
<rect x="273" y="135" width="5" height="11" fill="#000"/>
<rect x="283" y="137" width="1" height="9" fill="#000"/>
<rect x="281" y="142" width="5" height="4" fill="#000"/>
<rect x="282" y="143" width="3" height="2" fill="#fff"/>
<rect x="291" y="128" width="1" height="17" fill="#000"/>
<rect x="289" y="133" width="5" height="9" fill="#000"/>
<rect x="290" y="134" width="3" height="7" fill="#fff"/>
<rect x="299" y="132" width="1" height="9" fill="#000"/>
<rect x="297" y="133" width="5" height="1" fill="#000"/>
<rect x="307" y="125" width="1" height="14" fill="#000"/>
<rect x="305" y="126" width="5" height="8" fill="#000"/>
<rect x="315" y="134" width="1" height="5" fill="#000"/>
<rect x="313" y="134" width="5" height="5" fill="#000"/>
<rect x="323" y="128" width="1" height="9" fill="#000"/>
<rect x="321" y="130" width="5" height="3" fill="#000"/>
<rect x="331" y="108" width="1" height="14" fill="#000"/>
<rect x="329" y="110" width="5" height="11" fill="#000"/>
<rect x="330" y="111" width="3" height="9" fill="#fff"/>
<rect x="339" y="108" width="1" height="7" fill="#000"/>
<rect x="337" y="109" width="5" height="2" fill="#000"/>
<rect x="347" y="96" width="1" height="17" fill="#000"/>
<rect x="345" y="98" width="5" height="13" fill="#000"/>
<rect x="346" y="99" width="3" height="11" fill="#fff"/>
<rect x="355" y="98" width="1" height="8" fill="#000"/>
<rect x="353" y="98" width="5" height="6" fill="#000"/>
<rect x="363" y="104" width="1" height="14" fill="#000"/>
<rect x="361" y="110" width="5" height="1" fill="#000"/>
<rect x="371" y="91" width="1" height="26" fill="#000"/>
<rect x="369" y="95" width="5" height="12" fill="#000"/>
<rect x="370" y="96" width="3" height="10" fill="#fff"/>
<rect x="379" y="90" width="1" height="11" fill="#000"/>
<rect x="377" y="91" width="5" height="5" fill="#000"/>
<rect x="378" y="92" width="3" height="3" fill="#fff"/>
<rect x="387" y="70" width="1" height="30" fill="#000"/>
<rect x="385" y="74" width="5" height="22" fill="#000"/>
<rect x="395" y="94" width="1" height="9" fill="#000"/>
<rect x="393" y="95" width="5" height="7" fill="#000"/>
<rect x="403" y="102" width="1" height="13" fill="#000"/>
<rect x="401" y="109" width="5" height="3" fill="#000"/>
<rect x="402" y="110" width="3" height="1" fill="#fff"/>
<rect x="411" y="106" width="1" height="19" fill="#000"/>
<rect x="409" y="109" width="5" height="9" fill="#000"/>
<rect x="419" y="96" width="1" height="15" fill="#000"/>
<rect x="417" y="102" width="5" height="1" fill="#000"/>
<rect x="427" y="102" width="1" height="10" fill="#000"/>
<rect x="425" y="102" width="5" height="4" fill="#000"/>
<rect x="435" y="113" width="1" height="25" fill="#000"/>
<rect x="433" y="119" width="5" height="17" fill="#000"/>
<rect x="434" y="120" width="3" height="15" fill="#fff"/>
<rect x="443" y="119" width="1" height="11" fill="#000"/>
<rect x="441" y="119" width="5" height="8" fill="#000"/>
<rect x="451" y="98" width="1" height="9" fill="#000"/>
<rect x="449" y="101" width="5" height="3" fill="#000"/>
<rect x="450" y="102" width="3" height="1" fill="#fff"/>
<rect x="459" y="90" width="1" height="12" fill="#000"/>
<rect x="457" y="90" width="5" height="11" fill="#000"/>
<rect x="458" y="91" width="3" height="9" fill="#fff"/>
<rect x="467" y="84" width="1" height="12" fill="#000"/>
<rect x="465" y="89" width="5" height="1" fill="#000"/>
<rect x="475" y="85" width="1" height="8" fill="#000"/>
<rect x="473" y="89" width="5" height="1" fill="#000"/>
<rect x="483" y="66" width="1" height="20" fill="#000"/>
<rect x="481" y="71" width="5" height="15" fill="#000"/>
<rect x="482" y="72" width="3" height="13" fill="#fff"/>
<rect x="491" y="64" width="1" height="8" fill="#000"/>
<rect x="489" y="70" width="5" height="2" fill="#000"/>
<rect x="499" y="53" width="1" height="21" fill="#000"/>
<rect x="497" y="54" width="5" height="17" fill="#000"/>
<rect x="507" y="67" width="1" height="14" fill="#000"/>
<rect x="505" y="70" width="5" height="11" fill="#000"/>
<rect x="515" y="66" width="1" height="23" fill="#000"/>
<rect x="513" y="70" width="5" height="16" fill="#000"/>
<rect x="523" y="77" width="1" height="12" fill="#000"/>
<rect x="521" y="82" width="5" height="3" fill="#000"/>
<rect x="522" y="83" width="3" height="1" fill="#fff"/>
<rect x="531" y="65" width="1" height="19" fill="#000"/>
<rect x="529" y="77" width="5" height="3" fill="#000"/>
<rect x="539" y="73" width="1" height="8" fill="#000"/>
<rect x="537" y="73" width="5" height="7" fill="#000"/>
<rect x="538" y="74" width="3" height="5" fill="#fff"/>
<rect x="547" y="57" width="1" height="23" fill="#000"/>
<rect x="545" y="65" width="5" height="10" fill="#000"/>
<rect x="555" y="62" width="1" height="15" fill="#000"/>
<rect x="553" y="62" width="5" height="13" fill="#000"/>
<rect x="554" y="63" width="3" height="11" fill="#fff"/>
<rect x="563" y="54" width="1" height="17" fill="#000"/>
<rect x="561" y="57" width="5" height="14" fill="#000"/>
<rect x="571" y="67" width="1" height="20" fill="#000"/>
<rect x="569" y="70" width="5" height="17" fill="#000"/>
<rect x="579" y="91" width="1" height="32" fill="#000"/>
<rect x="577" y="93" width="5" height="28" fill="#000"/>
<rect x="587" y="117" width="1" height="22" fill="#000"/>
<rect x="585" y="121" width="5" height="15" fill="#000"/>
<rect x="595" y="113" width="1" height="21" fill="#000"/>
<rect x="593" y="116" width="5" height="9" fill="#000"/>
<rect x="594" y="117" width="3" height="7" fill="#fff"/>
<rect x="603" y="105" width="1" height="14" fill="#000"/>
<rect x="601" y="110" width="5" height="7" fill="#000"/>
<rect x="602" y="111" width="3" height="5" fill="#fff"/>
<rect x="611" y="121" width="1" height="20" fill="#000"/>
<rect x="609" y="126" width="5" height="13" fill="#000"/>
<rect x="619" y="136" width="1" height="12" fill="#000"/>
<rect x="617" y="139" width="5" height="1" fill="#000"/>
<rect x="627" y="133" width="1" height="15" fill="#000"/>
<rect x="625" y="138" width="5" height="9" fill="#000"/>
<rect x="626" y="139" width="3" height="7" fill="#fff"/>
<rect x="635" y="174" width="1" height="21" fill="#000"/>
<rect x="633" y="176" width="5" height="16" fill="#000"/>
<rect x="634" y="177" width="3" height="14" fill="#fff"/>
<rect x="643" y="173" width="1" height="16" fill="#000"/>
<rect x="641" y="177" width="5" height="11" fill="#000"/>
<rect x="651" y="186" width="1" height="30" fill="#000"/>
<rect x="649" y="197" width="5" height="17" fill="#000"/>
<rect x="659" y="212" width="1" height="26" fill="#000"/>
<rect x="657" y="214" width="5" height="19" fill="#000"/>
<rect x="667" y="206" width="1" height="22" fill="#000"/>
<rect x="665" y="209" width="5" height="16" fill="#000"/>
<rect x="675" y="222" width="1" height="18" fill="#000"/>
<rect x="673" y="224" width="5" height="15" fill="#000"/>
<rect x="683" y="225" width="1" height="28" fill="#000"/>
<rect x="681" y="237" width="5" height="4" fill="#000"/>
<rect x="682" y="238" width="3" height="2" fill="#fff"/>
<rect x="691" y="228" width="1" height="14" fill="#000"/>
<rect x="689" y="238" width="5" height="4" fill="#000"/>
<rect x="699" y="213" width="1" height="22" fill="#000"/>
<rect x="697" y="218" width="5" height="14" fill="#000"/>
<rect x="698" y="219" width="3" height="12" fill="#fff"/>
<rect x="707" y="205" width="1" height="20" fill="#000"/>
<rect x="705" y="205" width="5" height="13" fill="#000"/>
<rect x="706" y="206" width="3" height="11" fill="#fff"/>
<rect x="715" y="201" width="1" height="17" fill="#000"/>
<rect x="713" y="204" width="5" height="5" fill="#000"/>
<rect x="723" y="207" width="1" height="14" fill="#000"/>
<rect x="721" y="208" width="5" height="1" fill="#000"/>
<rect x="731" y="176" width="1" height="21" fill="#000"/>
<rect x="729" y="176" width="5" height="16" fill="#000"/>
<rect x="730" y="177" width="3" height="14" fill="#fff"/>
<rect x="739" y="156" width="1" height="18" fill="#000"/>
<rect x="737" y="168" width="5" height="6" fill="#000"/>
<rect x="738" y="169" width="3" height="4" fill="#fff"/>
<rect x="747" y="170" width="1" height="14" fill="#000"/>
<rect x="745" y="179" width="5" height="5" fill="#000"/>
<rect x="746" y="180" width="3" height="3" fill="#fff"/>
<rect x="755" y="171" width="1" height="13" fill="#000"/>
<rect x="753" y="175" width="5" height="5" fill="#000"/>
<rect x="754" y="176" width="3" height="3" fill="#fff"/>
<rect x="763" y="176" width="1" height="21" fill="#000"/>
<rect x="761" y="184" width="5" height="13" fill="#000"/>
<rect x="762" y="185" width="3" height="11" fill="#fff"/>
<rect x="771" y="179" width="1" height="9" fill="#000"/>
<rect x="769" y="185" width="5" height="1" fill="#000"/>
<rect x="779" y="153" width="1" height="21" fill="#000"/>
<rect x="777" y="158" width="5" height="16" fill="#000"/>
<rect x="778" y="159" width="3" height="14" fill="#fff"/>
<rect x="787" y="154" width="1" height="8" fill="#000"/>
<rect x="785" y="156" width="5" height="3" fill="#000"/>
<rect x="786" y="157" width="3" height="1" fill="#fff"/>
<rect x="795" y="146" width="1" height="13" fill="#000"/>
<rect x="793" y="147" width="5" height="5" fill="#000"/>
<rect x="794" y="148" width="3" height="3" fill="#fff"/>
<rect x="803" y="140" width="1" height="6" fill="#000"/>
<rect x="801" y="143" width="5" height="3" fill="#000"/>
<rect x="802" y="144" width="3" height="1" fill="#fff"/>
<rect x="811" y="139" width="1" height="15" fill="#000"/>
<rect x="809" y="141" width="5" height="8" fill="#000"/>
<rect x="819" y="148" width="1" height="7" fill="#000"/>
<rect x="817" y="150" width="5" height="1" fill="#000"/>
<rect x="827" y="135" width="1" height="19" fill="#000"/>
<rect x="825" y="140" width="5" height="8" fill="#000"/>
<rect x="826" y="141" width="3" height="6" fill="#fff"/>
<rect x="835" y="138" width="1" height="9" fill="#000"/>
<rect x="833" y="140" width="5" height="5" fill="#000"/>
<rect x="843" y="130" width="1" height="22" fill="#000"/>
<rect x="841" y="137" width="5" height="14" fill="#000"/>
<rect x="842" y="138" width="3" height="12" fill="#fff"/>
<rect x="851" y="128" width="1" height="12" fill="#000"/>
<rect x="849" y="136" width="5" height="3" fill="#000"/>
<rect x="859" y="147" width="1" height="16" fill="#000"/>
<rect x="857" y="147" width="5" height="14" fill="#000"/>
<rect x="867" y="158" width="1" height="8" fill="#000"/>
<rect x="865" y="162" width="5" height="4" fill="#000"/>
<rect x="875" y="151" width="1" height="17" fill="#000"/>
<rect x="873" y="155" width="5" height="8" fill="#000"/>
<rect x="874" y="156" width="3" height="6" fill="#fff"/>
<rect x="883" y="152" width="1" height="7" fill="#000"/>
<rect x="881" y="155" width="5" height="1" fill="#000"/>
<rect x="891" y="147" width="1" height="29" fill="#000"/>
<rect x="889" y="147" width="5" height="25" fill="#000"/>
<rect x="899" y="157" width="1" height="14" fill="#000"/>
<rect x="897" y="166" width="5" height="4" fill="#000"/>
<rect x="898" y="167" width="3" height="2" fill="#fff"/>
<rect x="907" y="167" width="1" height="15" fill="#000"/>
<rect x="905" y="172" width="5" height="3" fill="#000"/>
<rect x="906" y="173" width="3" height="1" fill="#fff"/>
<rect x="915" y="169" width="1" height="13" fill="#000"/>
<rect x="913" y="171" width="5" height="9" fill="#000"/>
<rect x="923" y="188" width="1" height="21" fill="#000"/>
<rect x="921" y="192" width="5" height="13" fill="#000"/>
<rect x="931" y="200" width="1" height="13" fill="#000"/>
<rect x="929" y="203" width="5" height="10" fill="#000"/>
<rect x="939" y="202" width="1" height="16" fill="#000"/>
<rect x="937" y="209" width="5" height="9" fill="#000"/>
<rect x="938" y="210" width="3" height="7" fill="#fff"/>
<rect x="947" y="203" width="1" height="10" fill="#000"/>
<rect x="945" y="207" width="5" height="3" fill="#000"/>
<rect x="946" y="208" width="3" height="1" fill="#fff"/>
<rect x="955" y="212" width="1" height="26" fill="#000"/>
<rect x="953" y="213" width="5" height="25" fill="#000"/>
<rect x="954" y="214" width="3" height="23" fill="#fff"/>
<rect x="963" y="213" width="1" height="9" fill="#000"/>
<rect x="961" y="214" width="5" height="5" fill="#000"/>
<rect x="971" y="221" width="1" height="12" fill="#000"/>
<rect x="969" y="225" width="5" height="6" fill="#000"/>
<rect x="970" y="226" width="3" height="4" fill="#fff"/>
<rect x="979" y="201" width="1" height="29" fill="#000"/>
<rect x="977" y="211" width="5" height="18" fill="#000"/>
<rect x="978" y="212" width="3" height="16" fill="#fff"/>
<rect x="987" y="235" width="1" height="24" fill="#000"/>
<rect x="985" y="244" width="5" height="5" fill="#000"/>
<rect x="995" y="236" width="1" height="22" fill="#000"/>
<rect x="993" y="243" width="5" height="11" fill="#000"/>
<rect x="994" y="244" width="3" height="9" fill="#fff"/>
<rect x="1003" y="231" width="1" height="28" fill="#000"/>
<rect x="1001" y="233" width="5" height="24" fill="#000"/>
<rect x="1002" y="234" width="3" height="22" fill="#fff"/>
<rect x="1011" y="232" width="1" height="9" fill="#000"/>
<rect x="1009" y="236" width="5" height="1" fill="#000"/>
<rect x="1019" y="221" width="1" height="14" fill="#000"/>
<rect x="1017" y="221" width="5" height="5" fill="#000"/>
<rect x="1027" y="228" width="1" height="16" fill="#000"/>
<rect x="1025" y="229" width="5" height="6" fill="#000"/>
<rect x="1035" y="233" width="1" height="23" fill="#000"/>
<rect x="1033" y="235" width="5" height="3" fill="#000"/>
<rect x="1034" y="236" width="3" height="1" fill="#fff"/>
<rect x="1043" y="231" width="1" height="14" fill="#000"/>
<rect x="1041" y="235" width="5" height="10" fill="#000"/>
<rect x="1051" y="223" width="1" height="16" fill="#000"/>
<rect x="1049" y="224" width="5" height="11" fill="#000"/>
<rect x="1050" y="225" width="3" height="9" fill="#fff"/>
<rect x="1059" y="205" width="1" height="19" fill="#000"/>
<rect x="1057" y="210" width="5" height="14" fill="#000"/>
<rect x="1058" y="211" width="3" height="12" fill="#fff"/>
<rect x="1067" y="228" width="1" height="21" fill="#000"/>
<rect x="1065" y="231" width="5" height="16" fill="#000"/>
<rect x="1075" y="245" width="1" height="9" fill="#000"/>
<rect x="1073" y="247" width="5" height="6" fill="#000"/>
<rect x="1083" y="298" width="1" height="23" fill="#000"/>
<rect x="1081" y="307" width="5" height="1" fill="#000"/>
<rect x="1091" y="305" width="1" height="23" fill="#000"/>
<rect x="1089" y="310" width="5" height="16" fill="#000"/>
<rect x="1099" y="285" width="1" height="35" fill="#000"/>
<rect x="1097" y="285" width="5" height="21" fill="#000"/>
<rect x="1098" y="286" width="3" height="19" fill="#fff"/>
<rect x="1107" y="280" width="1" height="17" fill="#000"/>
<rect x="1105" y="284" width="5" height="5" fill="#000"/>
<rect x="1115" y="286" width="1" height="16" fill="#000"/>
<rect x="1113" y="288" width="5" height="7" fill="#000"/>
<rect x="1123" y="297" width="1" height="14" fill="#000"/>
<rect x="1121" y="297" width="5" height="11" fill="#000"/>
<rect x="1131" y="335" width="1" height="43" fill="#000"/>
<rect x="1129" y="336" width="5" height="32" fill="#000"/>
<rect x="1139" y="351" width="1" height="25" fill="#000"/>
<rect x="1137" y="357" width="5" height="17" fill="#000"/>
<rect x="1147" y="429" width="1" height="66" fill="#000"/>
<rect x="1145" y="452" width="5" height="19" fill="#000"/>
<rect x="1146" y="453" width="3" height="17" fill="#fff"/>
<rect x="1155" y="367" width="1" height="60" fill="#000"/>
<rect x="1153" y="385" width="5" height="42" fill="#000"/>
<rect x="1154" y="386" width="3" height="40" fill="#fff"/>
<rect x="1163" y="406" width="1" height="42" fill="#000"/>
<rect x="1161" y="415" width="5" height="21" fill="#000"/>
<rect x="1162" y="416" width="3" height="19" fill="#fff"/>
<rect x="1171" y="417" width="1" height="44" fill="#000"/>
<rect x="1169" y="418" width="5" height="40" fill="#000"/>
<rect x="1179" y="415" width="1" height="52" fill="#000"/>
<rect x="1177" y="425" width="5" height="28" fill="#000"/>
<rect x="1178" y="426" width="3" height="26" fill="#fff"/>
<rect x="1187" y="418" width="1" height="30" fill="#000"/>
<rect x="1185" y="419" width="5" height="19" fill="#000"/>
<rect x="1195" y="416" width="1" height="46" fill="#000"/>
<rect x="1193" y="427" width="5" height="35" fill="#000"/>
<rect x="1194" y="428" width="3" height="33" fill="#fff"/>
<rect x="1203" y="427" width="1" height="75" fill="#000"/>
<rect x="1201" y="427" width="5" height="75" fill="#000"/>
<rect x="1211" y="480" width="1" height="87" fill="#000"/>
<rect x="1209" y="501" width="5" height="49" fill="#000"/>
<rect x="1219" y="506" width="1" height="52" fill="#000"/>
<rect x="1217" y="511" width="5" height="36" fill="#000"/>
<rect x="1218" y="512" width="3" height="34" fill="#fff"/>
<rect x="1227" y="462" width="1" height="37" fill="#000"/>
<rect x="1225" y="485" width="5" height="14" fill="#000"/>
<rect x="1226" y="486" width="3" height="12" fill="#fff"/>
<rect x="1235" y="433" width="1" height="62" fill="#000"/>
<rect x="1233" y="435" width="5" height="47" fill="#000"/>
<rect x="1234" y="436" width="3" height="45" fill="#fff"/>
<rect x="1243" y="498" width="1" height="48" fill="#000"/>
<rect x="1241" y="508" width="5" height="38" fill="#000"/>
<rect x="1242" y="509" width="3" height="36" fill="#fff"/>
<rect x="1251" y="498" width="1" height="42" fill="#000"/>
<rect x="1249" y="504" width="5" height="30" fill="#000"/>
<rect x="1259" y="459" width="1" height="22" fill="#000"/>
<rect x="1257" y="470" width="5" height="3" fill="#000"/>
<rect x="1267" y="453" width="1" height="25" fill="#000"/>
<rect x="1265" y="457" width="5" height="15" fill="#000"/>
<rect x="1266" y="458" width="3" height="13" fill="#fff"/>
<rect x="1275" y="409" width="1" height="27" fill="#000"/>
<rect x="1273" y="424" width="5" height="7" fill="#000"/>
<rect x="1283" y="400" width="1" height="35" fill="#000"/>
<rect x="1281" y="403" width="5" height="32" fill="#000"/>
<rect x="1282" y="404" width="3" height="30" fill="#fff"/>
<rect x="1291" y="405" width="1" height="29" fill="#000"/>
<rect x="1289" y="409" width="5" height="3" fill="#000"/>
<rect x="1290" y="410" width="3" height="1" fill="#fff"/>
<rect x="1299" y="409" width="1" height="23" fill="#000"/>
<rect x="1297" y="409" width="5" height="21" fill="#000"/>
<rect x="1307" y="387" width="1" height="26" fill="#000"/>
<rect x="1305" y="387" width="5" height="13" fill="#000"/>
<rect x="1315" y="400" width="1" height="21" fill="#000"/>
<rect x="1313" y="404" width="5" height="6" fill="#000"/>
<rect x="1323" y="425" width="1" height="30" fill="#000"/>
<rect x="1321" y="428" width="5" height="27" fill="#000"/>
<rect x="1322" y="429" width="3" height="25" fill="#fff"/>
<rect x="1331" y="407" width="1" height="29" fill="#000"/>
<rect x="1329" y="425" width="5" height="11" fill="#000"/>
<rect x="1339" y="397" width="1" height="22" fill="#000"/>
<rect x="1337" y="407" width="5" height="8" fill="#000"/>
<rect x="1347" y="393" width="1" height="34" fill="#000"/>
<rect x="1345" y="396" width="5" height="23" fill="#000"/>
<rect x="1346" y="397" width="3" height="21" fill="#fff"/>
<rect x="1355" y="405" width="1" height="22" fill="#000"/>
<rect x="1353" y="418" width="5" height="1" fill="#000"/>
<rect x="1363" y="414" width="1" height="33" fill="#000"/>
<rect x="1361" y="419" width="5" height="21" fill="#000"/>
<rect x="1371" y="429" width="1" height="33" fill="#000"/>
<rect x="1369" y="441" width="5" height="19" fill="#000"/>
<rect x="1370" y="442" width="3" height="17" fill="#fff"/>
<rect x="1379" y="423" width="1" height="21" fill="#000"/>
<rect x="1377" y="423" width="5" height="14" fill="#000"/>
<rect x="1378" y="424" width="3" height="12" fill="#fff"/>
<rect x="1599.5" y="372.5" width="4" height="4" fill="#fff" stroke="#ff0000" stroke-width="1"/>
<rect x="1599.5" y="396.5" width="4" height="4" fill="#fff" stroke="#ff0000" stroke-width="1"/>
<rect x="1599.5" y="438.5" width="4" height="4" fill="#fff" stroke="#32cd32" stroke-width="1"/>
<rect x="1599.5" y="459.5" width="4" height="4" fill="#fff" stroke="#0000ff" stroke-width="1"/>
<rect x="1599.5" y="480.5" width="4" height="4" fill="#fff" stroke="#0000ff" stroke-width="1"/>
<rect x="3" y="629" width="1" height="1" fill="#c0c0c0"/>
<rect x="19" y="629" width="1" height="1" fill="#c0c0c0"/>
<rect x="27" y="628" width="1" height="2" fill="#c0c0c0"/>
<rect x="35" y="628" width="1" height="2" fill="#c0c0c0"/>
<rect x="43" y="628" width="1" height="2" fill="#c0c0c0"/>
<rect x="51" y="629" width="1" height="2" fill="#c0c0c0"/>
<rect x="59" y="629" width="1" height="5" fill="#c0c0c0"/>
<rect x="67" y="629" width="1" height="6" fill="#c0c0c0"/>
<rect x="75" y="629" width="1" height="7" fill="#c0c0c0"/>
<rect x="83" y="629" width="1" height="9" fill="#c0c0c0"/>
<rect x="91" y="629" width="1" height="10" fill="#c0c0c0"/>
<rect x="99" y="629" width="1" height="14" fill="#c0c0c0"/>
<rect x="107" y="629" width="1" height="16" fill="#c0c0c0"/>
<rect x="115" y="629" width="1" height="18" fill="#c0c0c0"/>
<rect x="123" y="629" width="1" height="18" fill="#c0c0c0"/>
<rect x="131" y="629" width="1" height="14" fill="#c0c0c0"/>
<rect x="139" y="629" width="1" height="12" fill="#c0c0c0"/>
<rect x="147" y="629" width="1" height="11" fill="#c0c0c0"/>
<rect x="155" y="629" width="1" height="9" fill="#c0c0c0"/>
<rect x="163" y="629" width="1" height="8" fill="#c0c0c0"/>
<rect x="171" y="629" width="1" height="8" fill="#c0c0c0"/>
<rect x="179" y="629" width="1" height="7" fill="#c0c0c0"/>
<rect x="187" y="629" width="1" height="4" fill="#c0c0c0"/>
<rect x="203" y="628" width="1" height="2" fill="#c0c0c0"/>
<rect x="211" y="619" width="1" height="11" fill="#c0c0c0"/>
<rect x="219" y="612" width="1" height="18" fill="#c0c0c0"/>
<rect x="227" y="608" width="1" height="22" fill="#c0c0c0"/>
<rect x="235" y="606" width="1" height="24" fill="#c0c0c0"/>
<rect x="243" y="601" width="1" height="29" fill="#c0c0c0"/>
<rect x="251" y="598" width="1" height="32" fill="#c0c0c0"/>
<rect x="259" y="597" width="1" height="33" fill="#c0c0c0"/>
<rect x="267" y="596" width="1" height="34" fill="#c0c0c0"/>
<rect x="275" y="596" width="1" height="34" fill="#c0c0c0"/>
<rect x="283" y="596" width="1" height="34" fill="#c0c0c0"/>
<rect x="291" y="596" width="1" height="34" fill="#c0c0c0"/>
<rect x="299" y="596" width="1" height="34" fill="#c0c0c0"/>
<rect x="307" y="597" width="1" height="33" fill="#c0c0c0"/>
<rect x="315" y="598" width="1" height="32" fill="#c0c0c0"/>
<rect x="323" y="598" width="1" height="32" fill="#c0c0c0"/>
<rect x="331" y="596" width="1" height="34" fill="#c0c0c0"/>
<rect x="339" y="595" width="1" height="35" fill="#c0c0c0"/>
<rect x="347" y="592" width="1" height="38" fill="#c0c0c0"/>
<rect x="355" y="593" width="1" height="37" fill="#c0c0c0"/>
<rect x="363" y="594" width="1" height="36" fill="#c0c0c0"/>
<rect x="371" y="592" width="1" height="38" fill="#c0c0c0"/>
<rect x="379" y="592" width="1" height="38" fill="#c0c0c0"/>
<rect x="387" y="592" width="1" height="38" fill="#c0c0c0"/>
<rect x="395" y="594" width="1" height="36" fill="#c0c0c0"/>
<rect x="403" y="597" width="1" height="33" fill="#c0c0c0"/>
<rect x="411" y="599" width="1" height="31" fill="#c0c0c0"/>
<rect x="419" y="600" width="1" height="30" fill="#c0c0c0"/>
<rect x="427" y="602" width="1" height="28" fill="#c0c0c0"/>
<rect x="435" y="606" width="1" height="24" fill="#c0c0c0"/>
<rect x="443" y="609" width="1" height="21" fill="#c0c0c0"/>
<rect x="451" y="609" width="1" height="21" fill="#c0c0c0"/>
<rect x="459" y="608" width="1" height="22" fill="#c0c0c0"/>
<rect x="467" y="608" width="1" height="22" fill="#c0c0c0"/>
<rect x="475" y="607" width="1" height="23" fill="#c0c0c0"/>
<rect x="483" y="605" width="1" height="25" fill="#c0c0c0"/>
<rect x="491" y="602" width="1" height="28" fill="#c0c0c0"/>
<rect x="499" y="601" width="1" height="29" fill="#c0c0c0"/>
<rect x="507" y="602" width="1" height="28" fill="#c0c0c0"/>
<rect x="515" y="604" width="1" height="26" fill="#c0c0c0"/>
<rect x="523" y="606" width="1" height="24" fill="#c0c0c0"/>
<rect x="531" y="606" width="1" height="24" fill="#c0c0c0"/>
<rect x="539" y="606" width="1" height="24" fill="#c0c0c0"/>
<rect x="547" y="606" width="1" height="24" fill="#c0c0c0"/>
<rect x="555" y="605" width="1" height="25" fill="#c0c0c0"/>
<rect x="563" y="606" width="1" height="24" fill="#c0c0c0"/>
<rect x="571" y="609" width="1" height="21" fill="#c0c0c0"/>
<rect x="579" y="617" width="1" height="13" fill="#c0c0c0"/>
<rect x="587" y="624" width="1" height="6" fill="#c0c0c0"/>
<rect x="595" y="628" width="1" height="2" fill="#c0c0c0"/>
<rect x="603" y="629" width="1" height="1" fill="#c0c0c0"/>
<rect x="611" y="629" width="1" height="3" fill="#c0c0c0"/>
<rect x="619" y="629" width="1" height="8" fill="#c0c0c0"/>
<rect x="627" y="629" width="1" height="10" fill="#c0c0c0"/>
<rect x="635" y="629" width="1" height="18" fill="#c0c0c0"/>
<rect x="643" y="629" width="1" height="24" fill="#c0c0c0"/>
<rect x="651" y="629" width="1" height="33" fill="#c0c0c0"/>
<rect x="659" y="629" width="1" height="42" fill="#c0c0c0"/>
<rect x="667" y="629" width="1" height="47" fill="#c0c0c0"/>
<rect x="675" y="629" width="1" height="52" fill="#c0c0c0"/>
<rect x="683" y="629" width="1" height="56" fill="#c0c0c0"/>
<rect x="691" y="629" width="1" height="58" fill="#c0c0c0"/>
<rect x="699" y="629" width="1" height="57" fill="#c0c0c0"/>
<rect x="707" y="629" width="1" height="53" fill="#c0c0c0"/>
<rect x="715" y="629" width="1" height="50" fill="#c0c0c0"/>
<rect x="723" y="629" width="1" height="47" fill="#c0c0c0"/>
<rect x="731" y="629" width="1" height="40" fill="#c0c0c0"/>
<rect x="739" y="629" width="1" height="33" fill="#c0c0c0"/>
<rect x="747" y="629" width="1" height="28" fill="#c0c0c0"/>
<rect x="755" y="629" width="1" height="24" fill="#c0c0c0"/>
<rect x="763" y="629" width="1" height="20" fill="#c0c0c0"/>
<rect x="771" y="629" width="1" height="19" fill="#c0c0c0"/>
<rect x="779" y="629" width="1" height="14" fill="#c0c0c0"/>
<rect x="787" y="629" width="1" height="9" fill="#c0c0c0"/>
<rect x="795" y="629" width="1" height="4" fill="#c0c0c0"/>
<rect x="811" y="629" width="1" height="1" fill="#c0c0c0"/>
<rect x="819" y="627" width="1" height="3" fill="#c0c0c0"/>
<rect x="827" y="624" width="1" height="6" fill="#c0c0c0"/>
<rect x="835" y="622" width="1" height="8" fill="#c0c0c0"/>
<rect x="843" y="620" width="1" height="10" fill="#c0c0c0"/>
<rect x="851" y="618" width="1" height="12" fill="#c0c0c0"/>
<rect x="859" y="620" width="1" height="10" fill="#c0c0c0"/>
<rect x="867" y="622" width="1" height="8" fill="#c0c0c0"/>
<rect x="875" y="622" width="1" height="8" fill="#c0c0c0"/>
<rect x="883" y="622" width="1" height="8" fill="#c0c0c0"/>
<rect x="891" y="627" width="1" height="3" fill="#c0c0c0"/>
<rect x="899" y="628" width="1" height="2" fill="#c0c0c0"/>
<rect x="923" y="629" width="1" height="6" fill="#c0c0c0"/>
<rect x="931" y="629" width="1" height="11" fill="#c0c0c0"/>
<rect x="939" y="629" width="1" height="14" fill="#c0c0c0"/>
<rect x="947" y="629" width="1" height="16" fill="#c0c0c0"/>
<rect x="955" y="629" width="1" height="19" fill="#c0c0c0"/>
<rect x="963" y="629" width="1" height="21" fill="#c0c0c0"/>
<rect x="971" y="629" width="1" height="23" fill="#c0c0c0"/>
<rect x="979" y="629" width="1" height="23" fill="#c0c0c0"/>
<rect x="987" y="629" width="1" height="28" fill="#c0c0c0"/>
<rect x="995" y="629" width="1" height="30" fill="#c0c0c0"/>
<rect x="1003" y="629" width="1" height="30" fill="#c0c0c0"/>
<rect x="1011" y="629" width="1" height="30" fill="#c0c0c0"/>
<rect x="1019" y="629" width="1" height="29" fill="#c0c0c0"/>
<rect x="1027" y="629" width="1" height="28" fill="#c0c0c0"/>
<rect x="1035" y="629" width="1" height="29" fill="#c0c0c0"/>
<rect x="1043" y="629" width="1" height="29" fill="#c0c0c0"/>
<rect x="1051" y="629" width="1" height="26" fill="#c0c0c0"/>
<rect x="1059" y="629" width="1" height="22" fill="#c0c0c0"/>
<rect x="1067" y="629" width="1" height="23" fill="#c0c0c0"/>
<rect x="1075" y="629" width="1" height="24" fill="#c0c0c0"/>
<rect x="1083" y="629" width="1" height="32" fill="#c0c0c0"/>
<rect x="1091" y="629" width="1" height="41" fill="#c0c0c0"/>
<rect x="1099" y="629" width="1" height="41" fill="#c0c0c0"/>
<rect x="1107" y="629" width="1" height="42" fill="#c0c0c0"/>
<rect x="1115" y="629" width="1" height="42" fill="#c0c0c0"/>
<rect x="1123" y="629" width="1" height="44" fill="#c0c0c0"/>
<rect x="1131" y="629" width="1" height="53" fill="#c0c0c0"/>
<rect x="1139" y="629" width="1" height="60" fill="#c0c0c0"/>
<rect x="1147" y="629" width="1" height="75" fill="#c0c0c0"/>
<rect x="1155" y="629" width="1" height="77" fill="#c0c0c0"/>
<rect x="1163" y="629" width="1" height="82" fill="#c0c0c0"/>
<rect x="1171" y="629" width="1" height="90" fill="#c0c0c0"/>
<rect x="1179" y="629" width="1" height="91" fill="#c0c0c0"/>
<rect x="1187" y="629" width="1" height="93" fill="#c0c0c0"/>
<rect x="1195" y="629" width="1" height="92" fill="#c0c0c0"/>
<rect x="1203" y="629" width="1" height="99" fill="#c0c0c0"/>
<rect x="1211" y="629" width="1" height="110" fill="#c0c0c0"/>
<rect x="1219" y="629" width="1" height="113" fill="#c0c0c0"/>
<rect x="1227" y="629" width="1" height="110" fill="#c0c0c0"/>
<rect x="1235" y="629" width="1" height="101" fill="#c0c0c0"/>
<rect x="1243" y="629" width="1" height="102" fill="#c0c0c0"/>
<rect x="1251" y="629" width="1" height="104" fill="#c0c0c0"/>
<rect x="1259" y="629" width="1" height="96" fill="#c0c0c0"/>
<rect x="1267" y="629" width="1" height="88" fill="#c0c0c0"/>
<rect x="1275" y="629" width="1" height="76" fill="#c0c0c0"/>
<rect x="1283" y="629" width="1" height="64" fill="#c0c0c0"/>
<rect x="1291" y="629" width="1" height="52" fill="#c0c0c0"/>
<rect x="1299" y="629" width="1" height="46" fill="#c0c0c0"/>
<rect x="1307" y="629" width="1" height="37" fill="#c0c0c0"/>
<rect x="1315" y="629" width="1" height="31" fill="#c0c0c0"/>
<rect x="1323" y="629" width="1" height="28" fill="#c0c0c0"/>
<rect x="1331" y="629" width="1" height="27" fill="#c0c0c0"/>
<rect x="1339" y="629" width="1" height="22" fill="#c0c0c0"/>
<rect x="1347" y="629" width="1" height="16" fill="#c0c0c0"/>
<rect x="1355" y="629" width="1" height="14" fill="#c0c0c0"/>
<rect x="1363" y="629" width="1" height="15" fill="#c0c0c0"/>
<rect x="1371" y="629" width="1" height="15" fill="#c0c0c0"/>
<rect x="1379" y="629" width="1" height="13" fill="#c0c0c0"/>
<path d="M392 592h1M396 592h3M402 592h3M408 592h3M414 592h3M366 593h3M372 593h3M378 593h3M384 593h3M390 593h2M420 593h3M426 593h1M348 594h3M354 594h3M360 594h3M427 594h2M342 595h3M432 595h3M306 596h3M312 596h3M318 596h3M324 596h3M330 596h3M336 596h3M300 597h3M438 597h3M294 598h3M288 599h3M444 599h3M283 600h2M450 600h3M278 601h1M282 601h1M456 601h3M276 602h2M462 602h3M468 603h3M271 604h2M474 604h3M518 604h1M522 604h3M528 604h3M534 604h3M540 604h3M546 604h3M552 604h3M558 604h3M564 604h1M270 605h1M480 605h3M486 605h3M492 605h3M498 605h3M504 605h3M510 605h3M516 605h2M565 605h2M570 605h3M576 606h2M265 607h2M578 607h1M582 607h1M264 608h1M583 608h2M588 609h3M260 610h1M594 610h1M258 611h2M595 611h2M600 612h2M254 613h1M602 613h1M252 614h2M606 614h1M607 615h2M248 616h1M246 617h2M612 617h2M614 618h1M242 619h1M618 619h1M240 620h2M619 620h2M236 622h1M624 622h1M864 622h3M870 622h3M876 622h3M882 622h3M888 622h3M894 622h3M900 622h3M906 622h1M234 623h2M625 623h2M907 623h2M912 623h2M858 624h3M914 624h1M918 624h2M229 625h2M630 625h1M854 625h1M920 625h1M228 626h1M631 626h1M852 626h2M924 626h2M632 627h1M847 627h2M926 627h1M223 628h2M846 628h1M930 628h2M222 629h1M841 629h2M932 629h1M48 630h3M54 630h3M60 630h3M66 630h3M72 630h2M636 630h2M840 630h1M936 630h3M42 631h3M74 631h1M78 631h3M217 631h2M638 631h1M36 632h3M84 632h3M216 632h1M835 632h2M942 632h3M30 633h3M90 633h1M212 633h1M834 633h1M948 633h1M20 634h1M24 634h3M91 634h2M210 634h2M642 634h2M830 634h1M949 634h2M12 635h3M18 635h2M96 635h3M644 635h1M828 635h2M6 636h3M204 636h3M954 636h3M0 637h3M102 637h3M824 637h1M108 638h2M198 638h3M648 638h2M822 638h2M960 638h2M110 639h1M193 639h2M650 639h1M962 639h1M114 640h3M188 640h1M192 640h1M818 640h1M966 640h1M120 641h3M126 641h1M182 641h1M186 641h2M816 641h2M967 641h2M127 642h2M132 642h3M138 642h3M174 642h3M180 642h2M654 642h1M144 643h3M150 643h3M156 643h3M162 643h3M168 643h3M655 643h2M811 643h2M972 643h2M810 644h1M974 644h1M978 645h1M806 646h1M979 646h2M660 647h2M804 647h2M984 647h1M662 648h1M985 648h2M800 649h1M666 650h1M798 650h2M990 650h3M667 651h1M996 651h1M668 652h1M997 652h2M793 653h2M1002 653h2M1373 653h3M672 654h1M792 654h1M1004 654h1M1008 654h1M673 655h2M1009 655h2M1014 655h1M1367 655h3M788 656h1M1015 656h2M1020 656h2M1363 656h1M787 657h1M1022 657h1M1026 657h3M1361 657h2M678 658h1M786 658h1M1032 658h3M1038 658h3M1058 658h1M1062 658h3M1068 658h3M1074 658h3M1080 658h3M1086 658h1M679 659h1M1044 659h3M1050 659h3M1056 659h2M1087 659h2M1092 659h3M1356 659h2M680 660h1M781 660h2M1098 660h3M1355 660h1M780 661h1M1104 661h3M1110 662h3M684 663h1M776 663h1M1116 663h1M1350 663h2M685 664h1M774 664h2M1117 664h2M1349 664h1M686 665h1M1122 665h1M769 666h2M1123 666h2M768 667h1M1345 667h1M690 668h1M1128 668h3M1343 668h2M691 669h2M764 669h1M762 670h2M1134 670h2M696 671h1M1136 671h1M697 672h2M757 672h2M1339 672h1M756 673h1M1140 673h1M1338 673h1M702 674h1M1141 674h1M1337 674h1M703 675h2M751 675h2M1142 675h1M750 676h1M708 677h1M1146 677h1M709 678h2M744 678h3M1147 678h1M1333 678h1M740 679h1M1148 679h1M1332 679h1M714 680h3M720 680h1M738 680h2M1331 680h1M721 681h2M726 681h3M732 681h3M1152 681h1M1153 682h2M1327 684h1M1158 685h2M1326 685h1M1160 686h1M1325 686h1M1164 688h1M1165 689h1M1166 690h1M1322 690h1M1321 691h1M1170 692h1M1320 692h1M1171 693h2M1176 696h2M1316 696h1M1178 697h1M1315 697h1M1314 698h1M1182 700h2M1184 701h1M1310 701h1M1309 702h1M1308 703h1M1188 704h1M1189 705h1M1190 706h1M1304 707h1M1303 708h1M1194 709h1M1302 709h1M1195 710h1M1196 711h1M1200 713h1M1298 713h1M1201 714h2M1296 714h2M1206 716h1M1207 717h2M1292 718h1M1212 719h1M1291 719h1M1213 720h1M1290 720h1M1214 721h1M1218 723h3M1285 723h2M1284 724h1M1224 725h1M1225 726h1M1280 726h1M1226 727h1M1279 727h1M1230 728h3M1278 728h1M1274 729h1M1236 730h3M1272 730h2M1242 731h3M1266 731h3M1248 732h3M1254 732h2M1256 733h1M1260 733h3" transform="translate(0,0.5)" fill="none" stroke="#ff0000" stroke-width="1"/>
<line x1="0" y1="789.5" x2="1604" y2="789.5" stroke="#c0c0c0" stroke-width="1" stroke-dasharray="3,3"/>
<line x1="0" y1="840.5" x2="1604" y2="840.5" stroke="#c0c0c0" stroke-width="1" stroke-dasharray="3,3"/>
<line x1="0" y1="901.5" x2="1604" y2="901.5" stroke="#c0c0c0" stroke-width="1" stroke-dasharray="3,3"/>
<path d="M347 791h1M345 792h2M348 792h1M344 793h1M349 793h2M342 794h2M351 794h1M340 795h2M352 795h2M218 796h2M266 796h2M331 796h9M354 796h1M217 797h1M220 797h1M263 797h3M268 797h1M330 797h1M355 797h1M214 798h3M221 798h1M243 798h3M261 798h2M268 798h1M329 798h1M356 798h1M213 799h1M222 799h1M242 799h1M246 799h3M256 799h5M269 799h1M329 799h1M356 799h1M376 799h5M211 800h2M223 800h1M241 800h1M249 800h7M269 800h1M328 800h1M357 800h1M371 800h5M381 800h2M211 801h1M223 801h1M239 801h2M270 801h1M327 801h1M358 801h1M370 801h1M383 801h3M210 802h1M224 802h1M238 802h1M270 802h1M326 802h1M359 802h1M369 802h1M386 802h2M210 803h1M225 803h1M237 803h1M271 803h1M325 803h1M359 803h1M368 803h1M388 803h1M209 804h1M226 804h1M236 804h1M272 804h1M290 804h12M325 804h1M360 804h1M367 804h1M389 804h1M209 805h1M227 805h9M272 805h1M289 805h1M302 805h3M324 805h1M361 805h1M366 805h1M389 805h1M208 806h1M273 806h1M286 806h3M305 806h3M323 806h1M362 806h1M365 806h1M390 806h1M208 807h1M273 807h1M285 807h1M308 807h2M321 807h2M362 807h1M364 807h1M391 807h1M488 807h8M207 808h1M274 808h1M281 808h4M310 808h2M320 808h1M363 808h1M392 808h1M483 808h5M496 808h4M207 809h1M274 809h1M278 809h3M312 809h1M318 809h2M393 809h1M482 809h1M500 809h1M555 809h1M207 810h1M275 810h3M313 810h2M316 810h2M393 810h1M481 810h1M501 810h1M554 810h1M556 810h1M206 811h1M315 811h1M394 811h1M480 811h1M501 811h1M553 811h1M557 811h1M206 812h1M395 812h1M479 812h1M502 812h1M551 812h2M558 812h1M205 813h1M396 813h1M478 813h1M503 813h1M550 813h1M559 813h1M205 814h1M397 814h1M477 814h1M504 814h1M549 814h1M559 814h1M195 815h2M204 815h1M398 815h1M476 815h1M505 815h1M548 815h1M560 815h1M195 816h1M197 816h2M204 816h1M399 816h1M465 816h11M505 816h1M538 816h10M561 816h1M194 817h1M199 817h3M203 817h1M399 817h1M462 817h3M506 817h1M537 817h1M562 817h1M194 818h1M202 818h2M400 818h1M419 818h2M458 818h4M507 818h1M534 818h3M563 818h1M193 819h1M401 819h1M418 819h1M421 819h1M457 819h1M508 819h1M533 819h1M563 819h1M193 820h1M402 820h1M418 820h1M422 820h3M454 820h3M509 820h2M529 820h4M564 820h1M192 821h1M403 821h1M417 821h1M425 821h1M453 821h1M511 821h1M526 821h3M565 821h1M192 822h1M404 822h1M416 822h1M426 822h2M451 822h2M512 822h2M521 822h5M565 822h1M191 823h1M405 823h1M415 823h1M428 823h1M451 823h1M514 823h1M518 823h3M565 823h1M843 823h5M191 824h1M406 824h1M415 824h1M428 824h1M450 824h1M515 824h3M566 824h1M801 824h4M827 824h2M841 824h2M848 824h4M190 825h1M407 825h1M414 825h1M429 825h1M450 825h1M567 825h1M798 825h3M805 825h1M826 825h1M829 825h1M840 825h1M851 825h1M190 826h1M408 826h1M413 826h1M429 826h1M449 826h1M567 826h1M794 826h4M806 826h3M824 826h2M830 826h3M838 826h2M852 826h1M189 827h1M409 827h1M412 827h1M430 827h1M449 827h1M567 827h1M793 827h1M809 827h1M823 827h1M833 827h1M836 827h2M852 827h1M189 828h1M410 828h1M412 828h1M431 828h1M448 828h1M568 828h1M790 828h3M810 828h4M821 828h2M834 828h2M853 828h1M188 829h1M411 829h1M431 829h1M448 829h1M569 829h1M789 829h1M814 829h3M820 829h1M853 829h1M188 830h1M432 830h1M447 830h1M569 830h1M785 830h4M817 830h3M854 830h1M187 831h1M433 831h1M447 831h1M569 831h1M782 831h3M854 831h1M17 832h12M187 832h1M433 832h1M447 832h1M570 832h1M779 832h3M855 832h1M14 833h3M29 833h2M186 833h1M434 833h1M446 833h1M571 833h1M778 833h1M855 833h1M0 834h14M31 834h3M185 834h1M434 834h1M446 834h1M571 834h1M778 834h1M856 834h1M34 835h2M183 835h2M435 835h1M445 835h1M571 835h1M777 835h1M856 835h1M36 836h1M182 836h1M436 836h2M445 836h1M572 836h1M777 836h1M857 836h1M1347 836h1M37 837h2M181 837h1M438 837h2M444 837h1M572 837h1M776 837h1M857 837h1M1345 837h2M1348 837h1M39 838h1M180 838h1M440 838h1M444 838h1M572 838h1M738 838h2M776 838h1M858 838h1M875 838h9M1307 838h3M1344 838h1M1349 838h2M40 839h2M179 839h1M441 839h3M573 839h1M737 839h1M740 839h1M775 839h1M858 839h1M874 839h1M884 839h1M1283 839h5M1306 839h1M1310 839h3M1342 839h2M1351 839h1M42 840h1M178 840h1M443 840h1M573 840h1M734 840h3M741 840h2M775 840h1M859 840h1M872 840h2M884 840h1M1282 840h1M1288 840h5M1304 840h2M1313 840h4M1340 840h2M1352 840h2M43 841h1M177 841h1M573 841h1M733 841h1M743 841h1M774 841h1M859 841h2M871 841h1M885 841h1M1059 841h1M1280 841h2M1293 841h1M1303 841h1M1317 841h1M1339 841h1M1354 841h1M43 842h1M177 842h1M574 842h1M731 842h2M744 842h2M753 842h3M774 842h1M861 842h2M869 842h2M886 842h1M1058 842h2M1279 842h1M1294 842h3M1301 842h2M1318 842h3M1338 842h1M1355 842h1M1378 842h2M44 843h1M138 843h26M176 843h1M574 843h1M731 843h1M746 843h1M750 843h3M756 843h2M773 843h1M863 843h3M868 843h1M887 843h1M1057 843h1M1060 843h1M1277 843h2M1297 843h1M1300 843h1M1321 843h1M1336 843h2M1356 843h1M1377 843h1M44 844h1M135 844h3M164 844h1M175 844h1M574 844h1M730 844h1M747 844h3M758 844h2M773 844h1M866 844h2M887 844h1M899 844h2M1056 844h1M1060 844h1M1276 844h1M1298 844h2M1322 844h3M1335 844h1M1357 844h2M1374 844h3M45 845h1M133 845h2M165 845h2M174 845h1M575 845h1M730 845h1M760 845h1M772 845h1M888 845h1M897 845h2M901 845h1M1055 845h1M1061 845h1M1274 845h2M1325 845h2M1333 845h2M1359 845h1M1373 845h1M45 846h1M131 846h2M167 846h1M173 846h1M575 846h1M729 846h1M761 846h2M772 846h1M889 846h1M896 846h1M902 846h3M1055 846h1M1061 846h1M1273 846h1M1327 846h3M1332 846h1M1360 846h2M1369 846h4M45 847h1M130 847h1M168 847h2M173 847h1M575 847h1M603 847h1M729 847h1M763 847h9M890 847h1M894 847h2M905 847h1M1054 847h1M1062 847h1M1270 847h3M1330 847h2M1362 847h1M1366 847h3M46 848h1M130 848h1M170 848h1M172 848h1M575 848h1M601 848h2M604 848h1M729 848h1M890 848h1M892 848h2M906 848h3M1053 848h1M1062 848h1M1269 848h1M1363 848h3M46 849h1M129 849h1M171 849h1M576 849h1M600 849h1M604 849h1M728 849h1M891 849h1M909 849h1M1052 849h1M1062 849h1M1266 849h3M47 850h1M129 850h1M576 850h1M598 850h2M605 850h1M728 850h1M910 850h3M1051 850h1M1063 850h1M1265 850h1M47 851h1M128 851h1M576 851h1M596 851h2M605 851h1M727 851h1M913 851h1M1051 851h1M1063 851h1M1262 851h3M47 852h1M127 852h1M577 852h1M595 852h1M606 852h1M727 852h1M914 852h2M1050 852h1M1064 852h1M1235 852h1M1261 852h1M48 853h1M127 853h1M577 853h1M594 853h1M606 853h1M727 853h1M916 853h1M1049 853h1M1064 853h1M1234 853h1M1236 853h1M1259 853h2M48 854h1M67 854h5M126 854h1M577 854h1M594 854h1M607 854h1M726 854h1M916 854h1M1049 854h1M1064 854h1M1234 854h1M1237 854h1M1258 854h1M49 855h1M66 855h1M72 855h8M125 855h1M578 855h1M593 855h1M608 855h1M726 855h1M917 855h1M1049 855h1M1065 855h1M1233 855h1M1237 855h1M1258 855h1M49 856h1M65 856h1M80 856h5M125 856h1M578 856h1M593 856h1M608 856h1M725 856h1M917 856h1M1048 856h1M1065 856h1M1232 856h1M1238 856h1M1257 856h1M49 857h1M64 857h1M85 857h2M124 857h1M578 857h1M592 857h1M609 857h1M725 857h1M918 857h1M1019 857h1M1047 857h1M1066 857h1M1231 857h1M1239 857h1M1257 857h1M50 858h1M63 858h1M87 858h3M124 858h1M579 858h1M592 858h1M609 858h1M725 858h1M918 858h1M1018 858h1M1020 858h2M1047 858h1M1066 858h1M1231 858h1M1240 858h1M1256 858h1M50 859h1M63 859h1M90 859h2M123 859h1M579 859h1M591 859h1M610 859h1M626 859h2M724 859h1M919 859h1M1017 859h1M1022 859h2M1047 859h1M1067 859h1M1230 859h1M1241 859h1M1255 859h1M51 860h1M62 860h1M92 860h1M121 860h2M580 860h1M590 860h1M610 860h1M623 860h3M628 860h1M724 860h1M920 860h1M1016 860h1M1024 860h1M1046 860h1M1067 860h3M1229 860h1M1241 860h1M1255 860h1M51 861h3M61 861h1M92 861h1M120 861h1M581 861h1M590 861h1M611 861h5M621 861h2M628 861h1M707 861h5M723 861h1M920 861h1M979 861h1M1015 861h1M1025 861h2M1045 861h1M1070 861h3M1099 861h5M1228 861h1M1242 861h1M1254 861h1M54 862h3M60 862h1M93 862h1M118 862h2M582 862h1M589 862h1M616 862h5M629 862h1M706 862h1M712 862h12M921 862h1M978 862h1M980 862h1M1015 862h1M1027 862h10M1045 862h1M1073 862h3M1099 862h1M1104 862h6M1228 862h1M1243 862h2M1253 862h1M57 863h3M94 863h1M116 863h2M583 863h2M589 863h1M629 863h1M705 863h1M921 863h1M978 863h1M980 863h1M1014 863h1M1037 863h1M1045 863h1M1075 863h1M1098 863h1M1110 863h3M1227 863h1M1245 863h1M1253 863h1M95 864h1M115 864h1M585 864h1M588 864h1M630 864h1M704 864h1M922 864h1M977 864h1M981 864h1M1003 864h3M1013 864h1M1038 864h3M1044 864h1M1076 864h1M1098 864h1M1113 864h4M1226 864h1M1246 864h3M1252 864h1M95 865h1M114 865h1M586 865h1M588 865h1M630 865h1M703 865h1M922 865h1M944 865h5M977 865h1M981 865h1M1002 865h1M1006 865h3M1012 865h1M1041 865h1M1043 865h1M1076 865h1M1098 865h1M1117 865h1M1225 865h1M1249 865h1M1252 865h1M96 866h1M113 866h1M587 866h1M631 866h1M702 866h1M923 866h2M938 866h6M949 866h1M976 866h1M982 866h1M1001 866h1M1009 866h3M1042 866h2M1077 866h1M1097 866h1M1118 866h3M1194 866h2M1224 866h1M1250 866h2M97 867h1M111 867h2M631 867h1M701 867h1M925 867h1M937 867h1M950 867h3M975 867h1M982 867h1M1000 867h1M1077 867h1M1097 867h1M1121 867h1M1155 867h2M1193 867h1M1196 867h1M1223 867h1M98 868h1M110 868h1M632 868h1M700 868h1M926 868h3M934 868h3M953 868h1M975 868h1M983 868h1M999 868h1M1078 868h1M1096 868h1M1122 868h2M1155 868h1M1157 868h1M1179 868h3M1190 868h3M1196 868h1M1223 868h1M98 869h1M109 869h1M632 869h1M699 869h1M929 869h1M933 869h1M954 869h4M974 869h1M983 869h1M998 869h1M1078 869h1M1096 869h1M1124 869h1M1154 869h1M1158 869h3M1178 869h1M1182 869h3M1189 869h1M1197 869h1M1222 869h1M99 870h5M108 870h1M633 870h1M699 870h1M930 870h3M958 870h3M973 870h1M984 870h1M997 870h1M1079 870h1M1096 870h1M1124 870h1M1154 870h1M1161 870h1M1178 870h1M1185 870h4M1198 870h1M1221 870h1M104 871h4M633 871h1M698 871h1M961 871h4M973 871h1M984 871h1M996 871h1M1079 871h1M1095 871h1M1125 871h1M1154 871h1M1162 871h2M1177 871h1M1198 871h1M1220 871h1M634 872h1M698 872h1M965 872h2M972 872h1M985 872h1M994 872h2M1080 872h1M1095 872h1M1125 872h1M1154 872h1M1164 872h1M1176 872h1M1199 872h1M1219 872h1M634 873h1M697 873h1M967 873h3M972 873h1M985 873h1M993 873h1M1080 873h1M1095 873h1M1126 873h1M1153 873h1M1165 873h1M1175 873h1M1200 873h1M1218 873h1M635 874h2M697 874h1M970 874h2M986 874h1M990 874h3M1081 874h1M1094 874h1M1126 874h1M1153 874h1M1166 874h1M1175 874h1M1200 874h1M1217 874h1M637 875h1M696 875h1M986 875h1M989 875h1M1081 875h1M1094 875h1M1127 875h1M1153 875h1M1167 875h1M1174 875h1M1201 875h1M1217 875h1M638 876h3M696 876h1M987 876h2M1082 876h1M1094 876h1M1128 876h1M1152 876h1M1168 876h1M1173 876h1M1202 876h1M1216 876h1M641 877h1M695 877h1M1082 877h1M1093 877h1M1128 877h1M1152 877h1M1169 877h1M1172 877h1M1202 877h1M1215 877h1M642 878h2M695 878h1M1083 878h1M1093 878h1M1129 878h1M1152 878h1M1170 878h1M1172 878h1M1203 878h2M1214 878h1M644 879h1M694 879h1M1083 879h2M1092 879h1M1129 879h1M1151 879h1M1171 879h1M1205 879h1M1213 879h1M645 880h1M694 880h1M1085 880h1M1092 880h1M1130 880h1M1151 880h1M1206 880h3M1213 880h1M646 881h1M693 881h1M1086 881h3M1092 881h1M1130 881h1M1151 881h1M1209 881h1M1212 881h1M647 882h2M693 882h1M1089 882h1M1091 882h1M1131 882h5M1151 882h1M1210 882h2M649 883h1M667 883h2M692 883h1M1090 883h2M1136 883h4M1150 883h1M650 884h1M666 884h1M669 884h1M692 884h1M1140 884h1M1150 884h1M651 885h2M664 885h2M670 885h3M681 885h7M691 885h1M1140 885h1M1150 885h1M653 886h1M663 886h1M673 886h1M678 886h3M688 886h4M1141 886h1M1149 886h1M654 887h3M661 887h2M674 887h4M1142 887h1M1149 887h1M657 888h1M660 888h1M1143 888h1M1149 888h1M658 889h2M1143 889h1M1148 889h1M1144 890h1M1148 890h1M1145 891h1M1148 891h1M1146 892h1M1148 892h1M1146 893h2M1147 894h1" transform="translate(0,0.5)" fill="none" stroke="#1e90ff" stroke-width="1"/>
<rect x="1605" y="48" width="2" height="1" fill="#000"/>
<rect x="1605" y="81" width="2" height="1" fill="#000"/>
<rect x="1605" y="114" width="2" height="1" fill="#000"/>
<rect x="1605" y="147" width="2" height="1" fill="#000"/>
<rect x="1605" y="180" width="2" height="1" fill="#000"/>
<rect x="1605" y="213" width="2" height="1" fill="#000"/>
<rect x="1605" y="246" width="2" height="1" fill="#000"/>
<rect x="1605" y="279" width="2" height="1" fill="#000"/>
<rect x="1605" y="312" width="2" height="1" fill="#000"/>
<rect x="1605" y="345" width="2" height="1" fill="#000"/>
<rect x="1605" y="378" width="2" height="1" fill="#000"/>
<rect x="1605" y="411" width="2" height="1" fill="#000"/>
<rect x="1605" y="444" width="2" height="1" fill="#000"/>
<rect x="1605" y="477" width="2" height="1" fill="#000"/>
<rect x="1605" y="510" width="2" height="1" fill="#000"/>
<rect x="1605" y="543" width="2" height="1" fill="#000"/>
<rect x="1605" y="576" width="2" height="1" fill="#000"/>
<rect x="1605" y="583" width="1" height="1" fill="#000"/>
<rect x="1605" y="629" width="1" height="1" fill="#000"/>
<rect x="1605" y="750" width="1" height="1" fill="#000"/>
<rect x="1605" y="755" width="1" height="1" fill="#000"/>
<rect x="1605" y="926" width="1" height="1" fill="#000"/>
<rect x="59" y="927" width="1" height="4" fill="#000"/>
<rect x="123" y="927" width="1" height="4" fill="#000"/>
<rect x="187" y="927" width="1" height="4" fill="#000"/>
<rect x="251" y="927" width="1" height="4" fill="#000"/>
<rect x="315" y="927" width="1" height="4" fill="#000"/>
<rect x="379" y="927" width="1" height="4" fill="#000"/>
<rect x="443" y="927" width="1" height="4" fill="#000"/>
<rect x="507" y="927" width="1" height="4" fill="#000"/>
<rect x="571" y="927" width="1" height="4" fill="#000"/>
<rect x="635" y="927" width="1" height="4" fill="#000"/>
<rect x="699" y="927" width="1" height="4" fill="#000"/>
<rect x="763" y="927" width="1" height="4" fill="#000"/>
<rect x="827" y="927" width="1" height="4" fill="#000"/>
<rect x="891" y="927" width="1" height="4" fill="#000"/>
<rect x="955" y="927" width="1" height="4" fill="#000"/>
<rect x="1019" y="927" width="1" height="4" fill="#000"/>
<rect x="1083" y="927" width="1" height="4" fill="#000"/>
<rect x="1147" y="927" width="1" height="4" fill="#000"/>
<rect x="1211" y="927" width="1" height="4" fill="#000"/>
<rect x="1275" y="927" width="1" height="4" fill="#000"/>
<rect x="1339" y="927" width="1" height="4" fill="#000"/>
</g>
<text x="1610" y="52.1" font-size="9.7" fill="#000" textLength="33" lengthAdjust="spacingAndGlyphs">29298.0</text>
<text x="1610" y="85.1" font-size="9.7" fill="#000" textLength="33" lengthAdjust="spacingAndGlyphs">28770.0</text>
<text x="1610" y="118.1" font-size="9.7" fill="#000" textLength="33" lengthAdjust="spacingAndGlyphs">28242.0</text>
<text x="1610" y="151.1" font-size="9.7" fill="#000" textLength="33" lengthAdjust="spacingAndGlyphs">27698.0</text>
<text x="1610" y="184.1" font-size="9.7" fill="#000" textLength="33" lengthAdjust="spacingAndGlyphs">27170.0</text>
<text x="1610" y="217.1" font-size="9.7" fill="#000" textLength="33" lengthAdjust="spacingAndGlyphs">26642.0</text>
<text x="1610" y="250.1" font-size="9.7" fill="#000" textLength="33" lengthAdjust="spacingAndGlyphs">26114.0</text>
<text x="1610" y="283.1" font-size="9.7" fill="#000" textLength="33" lengthAdjust="spacingAndGlyphs">25570.0</text>
<text x="1610" y="316.1" font-size="9.7" fill="#000" textLength="33" lengthAdjust="spacingAndGlyphs">25042.0</text>
<text x="1610" y="349.1" font-size="9.7" fill="#000" textLength="33" lengthAdjust="spacingAndGlyphs">24514.0</text>
<text x="1610" y="382.1" font-size="9.7" fill="#000" textLength="33" lengthAdjust="spacingAndGlyphs">23986.0</text>
<text x="1610" y="415.1" font-size="9.7" fill="#000" textLength="33" lengthAdjust="spacingAndGlyphs">23458.0</text>
<text x="1610" y="448.1" font-size="9.7" fill="#000" textLength="33" lengthAdjust="spacingAndGlyphs">22914.0</text>
<text x="1610" y="481.1" font-size="9.7" fill="#000" textLength="33" lengthAdjust="spacingAndGlyphs">22386.0</text>
<text x="1610" y="514.1" font-size="9.7" fill="#000" textLength="33" lengthAdjust="spacingAndGlyphs">21858.0</text>
<text x="1610" y="547.1" font-size="9.7" fill="#000" textLength="33" lengthAdjust="spacingAndGlyphs">21330.0</text>
<text x="1610" y="580.1" font-size="9.7" fill="#000" textLength="33" lengthAdjust="spacingAndGlyphs">20802.0</text>
<text x="1608.5" y="592" font-size="10" fill="#000" textLength="23" lengthAdjust="spacingAndGlyphs">454.5</text>
<text x="1608.5" y="633" font-size="10" fill="#000" textLength="18" lengthAdjust="spacingAndGlyphs">0.00</text>
<text x="1608" y="748" font-size="10" fill="#000" textLength="36" lengthAdjust="spacingAndGlyphs">-1198.58</text>
<text x="1608.5" y="764" font-size="10" fill="#000" textLength="14" lengthAdjust="spacingAndGlyphs">100</text>
<text x="1608.5" y="793" font-size="10" fill="#000" textLength="9.5" lengthAdjust="spacingAndGlyphs">80</text>
<text x="1608.5" y="844" font-size="10" fill="#000" textLength="9.5" lengthAdjust="spacingAndGlyphs">50</text>
<text x="1608.5" y="905" font-size="10" fill="#000" textLength="9.5" lengthAdjust="spacingAndGlyphs">15</text>
<text x="1608.5" y="924" font-size="10" fill="#000" textLength="4.7" lengthAdjust="spacingAndGlyphs">0</text>
<text x="-5.6" y="940.5" font-size="10" fill="#000" textLength="53.6" lengthAdjust="spacingAndGlyphs">25 Nov 2019</text>
<text x="58.3" y="940.5" font-size="10" fill="#000" textLength="57" lengthAdjust="spacingAndGlyphs">29 Nov 05:00</text>
<text x="122.3" y="940.5" font-size="10" fill="#000" textLength="50" lengthAdjust="spacingAndGlyphs">5 Dec 05:00</text>
<text x="186.3" y="940.5" font-size="10" fill="#000" textLength="54.3" lengthAdjust="spacingAndGlyphs">11 Dec 05:00</text>
<text x="250.3" y="940.5" font-size="10" fill="#000" textLength="54.3" lengthAdjust="spacingAndGlyphs">17 Dec 05:00</text>
<text x="314.3" y="940.5" font-size="10" fill="#000" textLength="54.3" lengthAdjust="spacingAndGlyphs">23 Dec 05:00</text>
<text x="378.3" y="940.5" font-size="10" fill="#000" textLength="47.6" lengthAdjust="spacingAndGlyphs">2 Jan 05:00</text>
<text x="442.3" y="940.5" font-size="10" fill="#000" textLength="47.6" lengthAdjust="spacingAndGlyphs">8 Jan 05:00</text>
<text x="506.3" y="940.5" font-size="10" fill="#000" textLength="52" lengthAdjust="spacingAndGlyphs">14 Jan 05:00</text>
<text x="570.3" y="940.5" font-size="10" fill="#000" textLength="52" lengthAdjust="spacingAndGlyphs">20 Jan 05:00</text>
<text x="634.3" y="940.5" font-size="10" fill="#000" textLength="52" lengthAdjust="spacingAndGlyphs">29 Jan 01:15</text>
<text x="698.3" y="940.5" font-size="10" fill="#000" textLength="50" lengthAdjust="spacingAndGlyphs">4 Feb 01:15</text>
<text x="762.3" y="940.5" font-size="10" fill="#000" textLength="54.3" lengthAdjust="spacingAndGlyphs">10 Feb 01:15</text>
<text x="826.3" y="940.5" font-size="10" fill="#000" textLength="54.3" lengthAdjust="spacingAndGlyphs">14 Feb 01:15</text>
<text x="890.3" y="940.5" font-size="10" fill="#000" textLength="54.3" lengthAdjust="spacingAndGlyphs">20 Feb 01:15</text>
<text x="954.3" y="940.5" font-size="10" fill="#000" textLength="54.3" lengthAdjust="spacingAndGlyphs">26 Feb 01:15</text>
<text x="1018.3" y="940.5" font-size="10" fill="#000" textLength="49.6" lengthAdjust="spacingAndGlyphs">3 Mar 01:15</text>
<text x="1082.3" y="940.5" font-size="10" fill="#000" textLength="49.6" lengthAdjust="spacingAndGlyphs">9 Mar 01:15</text>
<text x="1146.3" y="940.5" font-size="10" fill="#000" textLength="54.3" lengthAdjust="spacingAndGlyphs">13 Mar 01:15</text>
<text x="1210.3" y="940.5" font-size="10" fill="#000" textLength="54.3" lengthAdjust="spacingAndGlyphs">19 Mar 01:15</text>
<text x="1274.3" y="940.5" font-size="10" fill="#000" textLength="54.3" lengthAdjust="spacingAndGlyphs">25 Mar 01:15</text>
<text x="1338.3" y="940.5" font-size="10" fill="#000" textLength="54.3" lengthAdjust="spacingAndGlyphs">31 Mar 01:15</text>
<text x="-1" y="594.5" font-size="10" fill="#000" textLength="134" lengthAdjust="spacingAndGlyphs">MACD(12,26,9) -144.57 -211.03</text>
<text x="-1" y="766.5" font-size="10" fill="#000" textLength="68" lengthAdjust="spacingAndGlyphs">RSI(14) 49.0603</text>
<polygon points="-2.5,37 1.5,32.6 5.5,37" fill="#000"/>
<text x="10.7" y="38.5" font-size="10" fill="#000" textLength="40.2" lengthAdjust="spacingAndGlyphs">HK50-,H4</text>
<text x="57.2" y="38.5" font-size="10" fill="#000" textLength="140.6" lengthAdjust="spacingAndGlyphs">23049.0 23274.5 22943.0 23266.0</text>
<polygon points="1389,27 1398,27 1393.5,31" fill="#c0c0c0"/>
<rect x="1606" y="368" width="41" height="11" fill="#ff0000" shape-rendering="crispEdges"/>
<text x="1610" y="377.1" font-size="9.7" fill="#fff" textLength="33" lengthAdjust="spacingAndGlyphs">24049.6</text>
<rect x="1606" y="392" width="41" height="11" fill="#ff0000" shape-rendering="crispEdges"/>
<text x="1610" y="401.1" font-size="9.7" fill="#fff" textLength="33" lengthAdjust="spacingAndGlyphs">23663.8</text>
<rect x="1606" y="418" width="41" height="11" fill="#000000" shape-rendering="crispEdges"/>
<text x="1610" y="427.1" font-size="9.7" fill="#fff" textLength="33" lengthAdjust="spacingAndGlyphs">23266.0</text>
<rect x="1606" y="434" width="41" height="11" fill="#32cd32" shape-rendering="crispEdges"/>
<text x="1610" y="443.1" font-size="9.7" fill="#fff" textLength="33" lengthAdjust="spacingAndGlyphs">22988.6</text>
<rect x="1606" y="455" width="41" height="11" fill="#0000ff" shape-rendering="crispEdges"/>
<text x="1610" y="464.1" font-size="9.7" fill="#fff" textLength="33" lengthAdjust="spacingAndGlyphs">22651.0</text>
<rect x="1606" y="476" width="41" height="11" fill="#0000ff" shape-rendering="crispEdges"/>
<text x="1610" y="485.1" font-size="9.7" fill="#fff" textLength="33" lengthAdjust="spacingAndGlyphs">22313.4</text>
<rect x="1271" y="436" width="137" height="9" fill="#00ff00" shape-rendering="crispEdges"/>
<line x1="1245.0" y1="542.5" x2="1303.7" y2="397.3" stroke="#ff0000" stroke-width="4" shape-rendering="crispEdges"/>
<polygon points="1307.5,388.0 1308.1,401.2 1297.9,397.1" fill="#ff0000" shape-rendering="crispEdges"/>
<line x1="1307.5" y1="388.0" x2="1360.5" y2="451.7" stroke="#ff0000" stroke-width="4" shape-rendering="crispEdges"/>
<polygon points="1366.3,458.6 1355.7,453.1 1362.8,447.2" fill="#ff0000" shape-rendering="crispEdges"/>
<line x1="1366.6" y1="458.6" x2="1382.9" y2="439.6" stroke="#ff0000" stroke-width="3.6" shape-rendering="crispEdges"/>
<polygon points="1388.8,432.8 1385.3,444.3 1378.0,438.0" fill="#ff0000" shape-rendering="crispEdges"/>
<rect x="1478.5" y="428.5" width="73" height="24" fill="#fff" stroke="#ff0000" stroke-width="1" shape-rendering="crispEdges"/>
<rect x="1475.5" y="438.5" width="3" height="3" fill="#fff" stroke="#ff0000" stroke-width="1" shape-rendering="crispEdges"/>
<rect x="1468" y="440" width="7" height="1" fill="#ff0000" shape-rendering="crispEdges"/>
<text x="1479.8" y="448.6" font-size="23.3" fill="#ff0000" textLength="70.6" lengthAdjust="spacingAndGlyphs" stroke="#ff0000" stroke-width="0.35">22988.6</text>
<text x="1401.5" y="399.5" font-size="31" font-weight="600" fill="#0a0a28" textLength="162" lengthAdjust="spacingAndGlyphs" style="font-family:'Noto Serif CJK SC','Noto Sans CJK SC',serif">多空转折点</text>
<text x="1400.5" y="398.5" font-size="31" font-weight="600" fill="#00ff00" textLength="162" lengthAdjust="spacingAndGlyphs" style="font-family:'Noto Serif CJK SC','Noto Sans CJK SC',serif">多空转折点</text>
<g shape-rendering="crispEdges">
<rect x="0" y="46" width="49" height="24" fill="url(#gSell)"/>
<rect x="165" y="46" width="52" height="24" fill="url(#gSell)"/>
<rect x="0" y="70" width="107" height="40" fill="url(#gBig)"/>
<rect x="109" y="70" width="108" height="40" fill="url(#gBig)"/>
<rect x="2" y="70" width="44" height="1" fill="#f6a0a0"/>
<rect x="169" y="70" width="44" height="1" fill="#f6a0a0"/>
<rect x="52.5" y="46.5" width="110" height="21" fill="#fff" stroke="#a9b0bd" stroke-width="1"/>
<rect x="53.5" y="47.5" width="19" height="19" fill="url(#gBtn)" stroke="#c4c8d0" stroke-width="1"/>
<rect x="142.5" y="47.5" width="19" height="19" fill="url(#gBtn)" stroke="#c4c8d0" stroke-width="1"/>
</g>
<polygon points="60,55 66,55 63,58.5" fill="#4a5ec8"/>
<polygon points="149,58.5 155,58.5 152,55" fill="#4a5ec8"/>
<text x="137.6" y="61.3" font-size="13" fill="#000" textLength="23" lengthAdjust="spacingAndGlyphs" text-anchor="end">1.00</text>
<text x="10.3" y="62.4" font-size="13" fill="#fff" textLength="25.5" lengthAdjust="spacingAndGlyphs">SELL</text>
<text x="178.5" y="62.4" font-size="13" fill="#fff" textLength="22.8" lengthAdjust="spacingAndGlyphs">BUY</text>
<text x="14" y="100.5" font-size="12" fill="#fff" textLength="35" lengthAdjust="spacingAndGlyphs" font-weight="700">23264</text>
<text x="124" y="100.5" font-size="12" fill="#fff" textLength="34" lengthAdjust="spacingAndGlyphs" font-weight="700">23277</text>
<text x="51.4" y="100.9" font-size="29" fill="#fff" font-weight="700">.</text>
<text x="60.5" y="100.5" font-size="33" fill="#fff" textLength="15.5" lengthAdjust="spacingAndGlyphs">5</text>
<text x="162.4" y="100.9" font-size="29" fill="#fff" font-weight="700">.</text>
<text x="171.5" y="100.5" font-size="33" fill="#fff" textLength="15.5" lengthAdjust="spacingAndGlyphs">5</text>
<defs><linearGradient id="gGold" x1="0" y1="0" x2="1" y2="1"><stop offset="0" stop-color="#fbe27a"/><stop offset="0.5" stop-color="#e9b62a"/><stop offset="1" stop-color="#a86a10"/></linearGradient><linearGradient id="gBlueBox" x1="0" y1="0" x2="1" y2="1"><stop offset="0" stop-color="#53b4ff"/><stop offset="1" stop-color="#1565d8"/></linearGradient><linearGradient id="gCloud" x1="0" y1="0" x2="0" y2="1"><stop offset="0" stop-color="#ffffff"/><stop offset="1" stop-color="#c5d5ee"/></linearGradient><linearGradient id="gLens" x1="0" y1="0" x2="0" y2="1"><stop offset="0" stop-color="#e8f4fd"/><stop offset="1" stop-color="#b7d9f3"/></linearGradient><linearGradient id="gClock" x1="0" y1="0" x2="0" y2="1"><stop offset="0" stop-color="#3f9bf5"/><stop offset="1" stop-color="#0b4fc0"/></linearGradient><linearGradient id="gBub" x1="0" y1="0" x2="0" y2="1"><stop offset="0" stop-color="#ffffff"/><stop offset="1" stop-color="#cfd2de"/></linearGradient><pattern id="pChk" width="2" height="2" patternUnits="userSpaceOnUse"><rect width="2" height="2" fill="#ffffff"/><rect width="1" height="1" fill="#f0f0f0"/><rect x="1" y="1" width="1" height="1" fill="#f0f0f0"/></pattern></defs>
<g shape-rendering="crispEdges">
<rect x="0" y="0" width="1651" height="21" fill="#f0f0f0"/>
<rect x="0" y="21" width="1651" height="1" fill="#f6f6f6"/>
<rect x="0" y="22" width="1651" height="1" fill="#a8a8a8"/>
<rect x="0" y="23" width="1651" height="1" fill="#6b6b6b"/>
<rect x="0" y="24" width="1651" height="2" fill="#ffffff"/>
<rect x="240" y="0" width="24" height="21" fill="url(#pChk)"/>
<rect x="240" y="0" width="1" height="21" fill="#a0a0a0"/>
<rect x="391" y="0" width="26" height="21" fill="url(#pChk)"/>
<rect x="391" y="0" width="1" height="21" fill="#a0a0a0"/>
<rect x="419" y="0" width="26" height="21" fill="url(#pChk)"/>
<rect x="419" y="0" width="1" height="21" fill="#a0a0a0"/>
<rect x="580" y="0" width="25" height="21" fill="url(#pChk)"/>
<rect x="580" y="0" width="1" height="21" fill="#a0a0a0"/>
<rect x="1025" y="0" width="26" height="21" fill="url(#pChk)"/>
<rect x="1025" y="0" width="1" height="21" fill="#a0a0a0"/>
<rect x="201" y="1" width="1" height="20" fill="#a0a0a0"/>
<rect x="202" y="1" width="1" height="20" fill="#ffffff"/>
<rect x="296" y="1" width="1" height="20" fill="#a0a0a0"/>
<rect x="297" y="1" width="1" height="20" fill="#ffffff"/>
<rect x="386" y="1" width="1" height="20" fill="#a0a0a0"/>
<rect x="387" y="1" width="1" height="20" fill="#ffffff"/>
<rect x="448" y="1" width="1" height="20" fill="#a0a0a0"/>
<rect x="449" y="1" width="1" height="20" fill="#ffffff"/>
<rect x="569" y="1" width="1" height="20" fill="#a0a0a0"/>
<rect x="570" y="1" width="1" height="20" fill="#ffffff"/>
<rect x="636" y="1" width="1" height="20" fill="#a0a0a0"/>
<rect x="637" y="1" width="1" height="20" fill="#ffffff"/>
<rect x="875" y="1" width="1" height="20" fill="#a0a0a0"/>
<rect x="876" y="1" width="1" height="20" fill="#ffffff"/>
<rect x="1136" y="1" width="1" height="20" fill="#a0a0a0"/>
<rect x="1137" y="1" width="1" height="20" fill="#ffffff"/>
<rect x="205" y="1" width="3" height="1" fill="#b4b4b4"/>
<rect x="205" y="3" width="3" height="1" fill="#b4b4b4"/>
<rect x="205" y="5" width="3" height="1" fill="#b4b4b4"/>
<rect x="205" y="7" width="3" height="1" fill="#b4b4b4"/>
<rect x="205" y="9" width="3" height="1" fill="#b4b4b4"/>
<rect x="205" y="11" width="3" height="1" fill="#b4b4b4"/>
<rect x="205" y="13" width="3" height="1" fill="#b4b4b4"/>
<rect x="205" y="15" width="3" height="1" fill="#b4b4b4"/>
<rect x="205" y="17" width="3" height="1" fill="#b4b4b4"/>
<rect x="205" y="19" width="3" height="1" fill="#b4b4b4"/>
<rect x="573" y="1" width="3" height="1" fill="#b4b4b4"/>
<rect x="573" y="3" width="3" height="1" fill="#b4b4b4"/>
<rect x="573" y="5" width="3" height="1" fill="#b4b4b4"/>
<rect x="573" y="7" width="3" height="1" fill="#b4b4b4"/>
<rect x="573" y="9" width="3" height="1" fill="#b4b4b4"/>
<rect x="573" y="11" width="3" height="1" fill="#b4b4b4"/>
<rect x="573" y="13" width="3" height="1" fill="#b4b4b4"/>
<rect x="573" y="15" width="3" height="1" fill="#b4b4b4"/>
<rect x="573" y="17" width="3" height="1" fill="#b4b4b4"/>
<rect x="573" y="19" width="3" height="1" fill="#b4b4b4"/>
<rect x="879" y="1" width="3" height="1" fill="#b4b4b4"/>
<rect x="879" y="3" width="3" height="1" fill="#b4b4b4"/>
<rect x="879" y="5" width="3" height="1" fill="#b4b4b4"/>
<rect x="879" y="7" width="3" height="1" fill="#b4b4b4"/>
<rect x="879" y="9" width="3" height="1" fill="#b4b4b4"/>
<rect x="879" y="11" width="3" height="1" fill="#b4b4b4"/>
<rect x="879" y="13" width="3" height="1" fill="#b4b4b4"/>
<rect x="879" y="15" width="3" height="1" fill="#b4b4b4"/>
<rect x="879" y="17" width="3" height="1" fill="#b4b4b4"/>
<rect x="879" y="19" width="3" height="1" fill="#b4b4b4"/>
</g>
<text x="-6.5" y="14" font-size="12" fill="#000">新订单</text>
<text x="145.7" y="14" font-size="12" fill="#000" textLength="47" lengthAdjust="spacingAndGlyphs">自动交易</text>
<polygon points="42.3,12.1 49.8,17.8 57.7,12.6 57.2,10.6 49.8,15.6 43,10.8" fill="#e8d49a" stroke="#9a6010" stroke-width="0.7"/>
<path d="M47.2,3.2 L57.1,9.9 L49.9,15.4 L42.6,11.3 Q43.5,6.5 47.2,3.2 Z" fill="url(#gGold)" stroke="#a06a12" stroke-width="0.8"/>
<path d="M47.6,5 L54.8,9.9 L50,13.4 L44.6,10.3 Z" fill="#fbe45a" opacity="0.75"/>
<polygon points="72,3.4 75,2.2 83.1,2.6 83.1,11 72,11" fill="#1f7fe6"/>
<polygon points="75,2.2 83.1,2.6 83.1,11 75,11" fill="#3ea6fb"/>
<rect x="77.2" y="6.3" width="4.6" height="1.1" fill="#e6f3ff"/><rect x="77.2" y="4.2" width="4.6" height="0.8" fill="#8fcbff"/>
<path d="M73.6,17.4 a3.1,3.1 0 0 1 0.2,-6.1 a3.7,3.7 0 0 1 6.9,-1 a2.7,2.7 0 0 1 3.5,2.2 a2.6,2.6 0 0 1 -0.5,4.9 z" fill="url(#gCloud)" stroke="#4f6fae" stroke-width="0.9"/>
<path d="M106,9.8 L106,17.9 A8.1,8.1 0 0 0 114.1,9.8 Z" fill="#7cc47e" opacity="0.55"/>
<g fill="none"><path d="M106,1.7 a8.1,8.1 0 0 0 0,16.2" stroke="#5c86e4" stroke-width="0.9" opacity="0.8"/><path d="M106,4.3 a5.5,5.5 0 0 0 0,11" stroke="#4a78e0" stroke-width="0.9" opacity="0.85"/><path d="M106,6.8 a3,3 0 0 0 0,6" stroke="#3f6fdc" stroke-width="0.9" opacity="0.9"/><path d="M106,1.7 a8.1,8.1 0 0 1 8.1,8.1" stroke="#86b4a4" stroke-width="0.9" opacity="0.8"/><path d="M106,4.3 a5.5,5.5 0 0 1 5.5,5.5" stroke="#74a89c" stroke-width="0.9" opacity="0.8"/><path d="M106,6.8 a3,3 0 0 1 3,3" stroke="#6a9cac" stroke-width="0.9" opacity="0.8"/><path d="M114.1,9.8 a8.1,8.1 0 0 1 -8.1,8.1" stroke="#4aa85a" stroke-width="0.9" opacity="0.8"/></g>
<circle cx="106" cy="9.6" r="1.7" fill="#2f62d8"/>
<rect x="105.5" y="10" width="1.2" height="7.8" fill="#1fa02e"/>
<polygon points="125.8,8 140.6,8 137.5,13 132.6,17.7 128.5,12" fill="#f6d43e" stroke="#c89a1a" stroke-width="0.6"/>
<polygon points="129,9 137,9 133,15" fill="#fce97a" opacity="0.8"/>
<ellipse cx="132.9" cy="6.6" rx="7.8" ry="2.5" fill="#4a98dc" stroke="#2874b6" stroke-width="0.6"/>
<ellipse cx="132.9" cy="4.6" rx="4" ry="2.5" fill="#6cb4ea" stroke="#2f7cc0" stroke-width="0.4"/>
<circle cx="137.4" cy="13.7" r="3.8" fill="#e02a12" stroke="#aa1606" stroke-width="0.7"/>
<rect x="136" y="12.3" width="2.9" height="2.9" fill="#fff"/>
<g stroke="#555555" stroke-width="1" fill="#555555" shape-rendering="crispEdges"><line x1="219.5" y1="4" x2="219.5" y2="18"/><line x1="217" y1="15.5" x2="230" y2="15.5"/></g>
<polygon points="219.5,2.5 217.8,5.5 221.2,5.5" fill="#555555"/>
<polygon points="231.5,15.5 228.5,13.8 228.5,17.2" fill="#555555"/>
<path d="M225.5,5.5 V13.5 M225.5,6.5 h2.5 M223,12.5 h2.5" fill="none" stroke="#1e9e1e" stroke-width="1.3" shape-rendering="crispEdges"/>
<g stroke="#555555" stroke-width="1" fill="#555555" shape-rendering="crispEdges"><line x1="247.5" y1="4" x2="247.5" y2="18"/><line x1="245" y1="15.5" x2="258" y2="15.5"/></g>
<polygon points="247.5,2.5 245.8,5.5 249.2,5.5" fill="#555555"/>
<polygon points="259.5,15.5 256.5,13.8 256.5,17.2" fill="#555555"/>
<rect x="253" y="2" width="1" height="12" fill="#168a16" shape-rendering="crispEdges"/>
<rect x="251.5" y="4" width="4" height="7.5" fill="#20d020" stroke="#168a16" stroke-width="0.8"/>
<g stroke="#555555" stroke-width="1" fill="#555555" shape-rendering="crispEdges"><line x1="275.5" y1="4" x2="275.5" y2="18"/><line x1="273" y1="15.5" x2="286" y2="15.5"/></g>
<polygon points="275.5,2.5 273.8,5.5 277.2,5.5" fill="#555555"/>
<polygon points="287.5,15.5 284.5,13.8 284.5,17.2" fill="#555555"/>
<path d="M274,12.5 C277,10 278,6 280.5,7 S284,10.5 286,11" fill="none" stroke="#1e9e1e" stroke-width="1.2"/>
<line x1="314.5" y1="11.7" x2="320.0" y2="17" stroke="#b8901c" stroke-width="3" stroke-linecap="round"/>
<line x1="314.8" y1="11.6" x2="319.8" y2="16.4" stroke="#f0d860" stroke-width="1.2" stroke-linecap="round"/>
<circle cx="310.5" cy="7.7" r="5.3" fill="url(#gLens)" stroke="#3a82cc" stroke-width="1.1"/>
<rect x="307.5" y="7" width="6" height="1.6" fill="#2f74bc"/>
<rect x="309.7" y="4.8" width="1.6" height="6" fill="#2f74bc"/>
<line x1="342.6" y1="11.7" x2="348.1" y2="17" stroke="#b8901c" stroke-width="3" stroke-linecap="round"/>
<line x1="342.90000000000003" y1="11.6" x2="347.90000000000003" y2="16.4" stroke="#f0d860" stroke-width="1.2" stroke-linecap="round"/>
<circle cx="338.6" cy="7.7" r="5.3" fill="url(#gLens)" stroke="#3a82cc" stroke-width="1.1"/>
<rect x="335.6" y="7" width="6" height="1.6" fill="#2f74bc"/>
<rect x="361" y="2" width="7.9" height="7.8" fill="#3fa524"/>
<rect x="362.2" y="5.2" width="5.5" height="3.4" fill="#fff" opacity="0.92"/>
<rect x="363" y="6.6" width="3.9" height="0.8" fill="#3fa524"/>
<rect x="369.3" y="2" width="7.9" height="7.8" fill="#2456cc"/>
<rect x="370.5" y="5.2" width="5.5" height="3.4" fill="#fff" opacity="0.92"/>
<rect x="371.3" y="6.6" width="3.9" height="0.8" fill="#2456cc"/>
<rect x="361" y="10.2" width="7.9" height="7.8" fill="#2456cc"/>
<rect x="362.2" y="13.399999999999999" width="5.5" height="3.4" fill="#fff" opacity="0.92"/>
<rect x="363" y="14.799999999999999" width="3.9" height="0.8" fill="#2456cc"/>
<rect x="369.3" y="10.2" width="7.9" height="7.8" fill="#3fa524"/>
<rect x="370.5" y="13.399999999999999" width="5.5" height="3.4" fill="#fff" opacity="0.92"/>
<rect x="371.3" y="14.799999999999999" width="3.9" height="0.8" fill="#3fa524"/>
<g stroke="#555555" stroke-width="1" fill="#555555" shape-rendering="crispEdges"><line x1="399.5" y1="4" x2="399.5" y2="18"/><line x1="397" y1="15.5" x2="410" y2="15.5"/></g>
<polygon points="399.5,2.5 397.8,5.5 401.2,5.5" fill="#555555"/>
<polygon points="411.5,15.5 408.5,13.8 408.5,17.2" fill="#555555"/>
<polygon points="404,6.3 408.5,9.7 404,13" fill="#22b422" stroke="#168a16" stroke-width="0.5"/>
<g stroke="#555555" stroke-width="1" fill="#555555" shape-rendering="crispEdges"><line x1="427.5" y1="4" x2="427.5" y2="18"/><line x1="425" y1="15.5" x2="438" y2="15.5"/></g>
<polygon points="427.5,2.5 425.8,5.5 429.2,5.5" fill="#555555"/>
<polygon points="439.5,15.5 436.5,13.8 436.5,17.2" fill="#555555"/>
<rect x="433" y="4" width="1" height="10" fill="#1f6fc0" shape-rendering="crispEdges"/>
<path d="M439,9.3 H435 M437,7.5 L434.8,9.3 L437,11.1" fill="none" stroke="#d03a10" stroke-width="1.1"/>
<path d="M458.5,2.5 h7 l3.5,3.5 v9 h-10.5 z" fill="#fafafa" stroke="#9a9a9a" stroke-width="0.8"/>
<path d="M465.5,2.5 v3.5 h3.5" fill="#e4e4e4" stroke="#9a9a9a" stroke-width="0.6"/>
<text x="459.8" y="11.5" font-size="8" fill="#555" font-style="italic">f</text>
<path d="M466.6,8.5 h3.6 v3.7 h3.7 v3.6 h-3.7 v3.6 h-3.6 v-3.6 h-3.7 v-3.6 h3.7 z" fill="#2ad22a" stroke="#138a13" stroke-width="0.7"/>
<polygon points="479.8,9 485.40000000000003,9 482.6,12.2" fill="#000"/>
<circle cx="503.9" cy="9.8" r="7.9" fill="url(#gClock)" stroke="#0a48a8" stroke-width="0.5"/>
<circle cx="503.9" cy="9.8" r="5.6" fill="#f4f8ff"/>
<path d="M503.9,6 V10 H507" fill="none" stroke="#303030" stroke-width="1"/>
<polygon points="518.7,9 524.3000000000001,9 521.5,12.2" fill="#000"/>
<rect x="535.5" y="3.5" width="15" height="13.5" fill="#fff" stroke="#3d7bd4" stroke-width="1"/>
<rect x="535" y="3" width="16" height="2.6" fill="#3d7bd4"/>
<rect x="536" y="10.8" width="14" height="0.9" fill="#3d7bd4"/>
<polyline points="537,9.3 539.5,8.2 541.5,7.5 543.5,8.3 546,7 548,7.4 549.5,6.6" fill="none" stroke="#a82010" stroke-width="1"/>
<polyline points="537,15 539.5,13.8 541.5,14.6 544,13 546,12.4 548,14 549.5,14.6" fill="none" stroke="#189a18" stroke-width="1"/>
<polygon points="557.4,9 563.0,9 560.1999999999999,12.2" fill="#000"/>
<polygon points="586.8,3 586.8,15 589.6,12.4 592,17.2 594,16.2 591.7,11.6 595.3,11.3" fill="#505050"/>
<g fill="#555555" shape-rendering="crispEdges"><rect x="619" y="3" width="1" height="6"/><rect x="619" y="12" width="1" height="6"/><rect x="612" y="10" width="6" height="1"/><rect x="621" y="10" width="6" height="1"/><rect x="619" y="10" width="1" height="1"/></g>
<rect x="653" y="4" width="1" height="13" fill="#555555" shape-rendering="crispEdges"/>
<rect x="676" y="10" width="12" height="1" fill="#555555" shape-rendering="crispEdges"/>
<line x1="704" y1="17" x2="716.2" y2="4.8" stroke="#555555" stroke-width="1.1"/>
<g stroke="#555555" stroke-width="0.9" fill="none"><line x1="730" y1="11.5" x2="742" y2="3.5"/><line x1="731.5" y1="14.5" x2="743.5" y2="6.5"/><line x1="733" y1="17" x2="744.5" y2="9.5"/><line x1="733" y1="8.5" x2="734.5" y2="16"/><line x1="736" y1="6.5" x2="737.5" y2="14"/><line x1="739" y1="4.5" x2="740.5" y2="12"/><line x1="742" y1="2" x2="743.3" y2="9.5"/></g>
<text x="740.8" y="18.3" font-size="6.5" fill="#303030" font-weight="700">E</text>
<line x1="759" y1="3.5" x2="772" y2="3.5" stroke="#606060" stroke-width="1" stroke-dasharray="1,1" shape-rendering="crispEdges"/>
<line x1="759" y1="6.5" x2="772" y2="6.5" stroke="#606060" stroke-width="1" stroke-dasharray="1,1" shape-rendering="crispEdges"/>
<line x1="759" y1="10.5" x2="772" y2="10.5" stroke="#606060" stroke-width="1" stroke-dasharray="1,1" shape-rendering="crispEdges"/>
<line x1="759" y1="14.5" x2="768" y2="14.5" stroke="#606060" stroke-width="1" stroke-dasharray="1,1" shape-rendering="crispEdges"/>
<text x="768.8" y="18.3" font-size="6.5" fill="#303030" font-weight="700">F</text>
<text x="789.5" y="15" font-size="12.5" fill="#555" textLength="8.2" lengthAdjust="spacingAndGlyphs">A</text>
<rect x="816.5" y="4.5" width="11" height="12" fill="none" stroke="#606060" stroke-width="1" stroke-dasharray="1,1" shape-rendering="crispEdges"/>
<text x="818" y="14.6" font-size="10.5" fill="#555" textLength="8" lengthAdjust="spacingAndGlyphs">T</text>
<polygon points="846.2,4 849.2,7 846.2,8.6 843.4,7" fill="#505050"/>
<polygon points="853.6,12 856.6,13.6 853.6,16.6 850.6,13.6" fill="#505050"/>
<polyline points="845,10.5 847,12.6 852,7.6" fill="none" stroke="#505050" stroke-width="1.2"/>
<polygon points="863.6,9 869.2,9 866.4,12.2" fill="#000"/>
<text x="890.6" y="14" font-size="10" fill="#484848" textLength="12.6" lengthAdjust="spacingAndGlyphs">M1</text>
<text x="918.8" y="14" font-size="10" fill="#484848" textLength="12.7" lengthAdjust="spacingAndGlyphs">M5</text>
<text x="944.6" y="14" font-size="10" fill="#484848" textLength="17.5" lengthAdjust="spacingAndGlyphs">M15</text>
<text x="972.7" y="14" font-size="10" fill="#484848" textLength="17.7" lengthAdjust="spacingAndGlyphs">M30</text>
<text x="1003.5" y="14" font-size="10" fill="#484848" textLength="12" lengthAdjust="spacingAndGlyphs">H1</text>
<text x="1030.4" y="14" font-size="10" fill="#484848" textLength="12.6" lengthAdjust="spacingAndGlyphs">H4</text>
<text x="1059.6" y="14" font-size="10" fill="#484848" textLength="11.7" lengthAdjust="spacingAndGlyphs">D1</text>
<text x="1087.4" y="14" font-size="10" fill="#484848" textLength="14.2" lengthAdjust="spacingAndGlyphs">W1</text>
<text x="1113.5" y="14" font-size="10" fill="#484848" textLength="15" lengthAdjust="spacingAndGlyphs">MN</text>
<line x1="1604" y1="10.3" x2="1599.4" y2="14.8" stroke="#1f57d4" stroke-width="2.6" stroke-linecap="round"/>
<circle cx="1606.6" cy="7.3" r="3.9" fill="#f6f8ff" stroke="#1f57d4" stroke-width="1.4"/>
<path d="M1641,11.6 l1.3,2.2 l-0.2,-2.4" fill="#666" stroke="#666" stroke-width="0.6"/>
<ellipse cx="1639.3" cy="6.9" rx="6.7" ry="4.6" fill="url(#gBub)" stroke="#9a9a9a" stroke-width="0.8"/>
<path d="M1628.8,14.6 l-1.2,2.1 l2.2,-1.6" fill="#666" stroke="#666" stroke-width="0.6"/>
<ellipse cx="1630.3" cy="11.4" rx="5.1" ry="3.6" fill="url(#gBub)" stroke="#9a9a9a" stroke-width="0.8"/>
</svg></body></html>
